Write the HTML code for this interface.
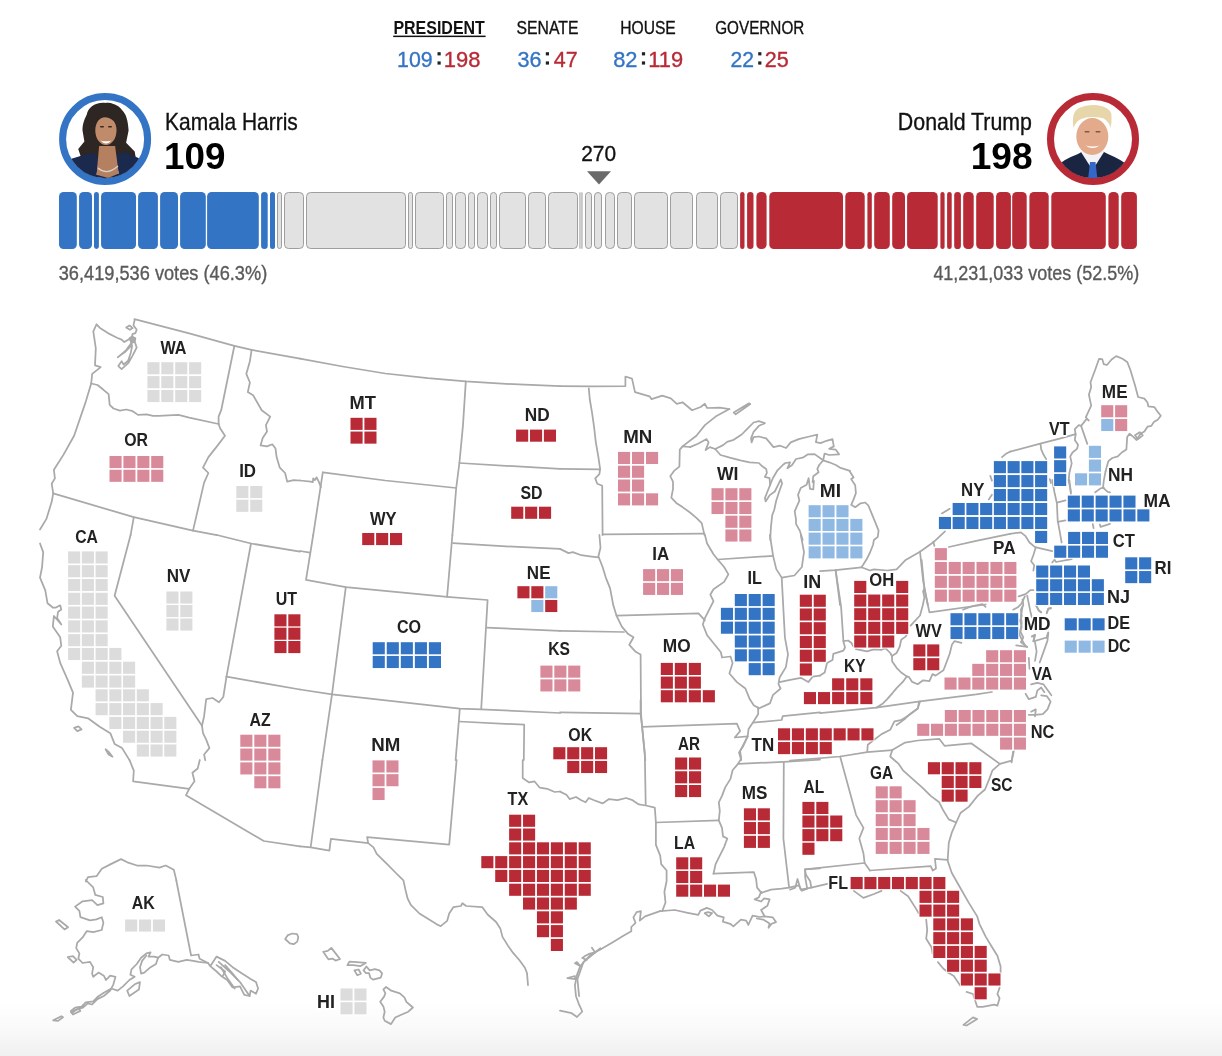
<!DOCTYPE html>
<html lang="en"><head><meta charset="utf-8"><title>Election results</title>
<style>html,body{margin:0;padding:0;background:#fff}svg{display:block;font-family:'Liberation Sans', sans-serif}</style></head>
<body><svg width="1222" height="1056" viewBox="0 0 1222 1056">
<defs><clipPath id="cpH"><circle cx="105.1" cy="139" r="39.2"/></clipPath><clipPath id="cpT"><circle cx="1093" cy="139" r="39.2"/></clipPath></defs>
<rect width="1222" height="1056" fill="#fff"/>
<linearGradient id="fade" x1="0" y1="0" x2="0" y2="1"><stop offset="0" stop-color="#f0f0f0" stop-opacity="0"/><stop offset="0.5" stop-color="#f0f0f0" stop-opacity="0.35"/><stop offset="1" stop-color="#f0f0f0"/></linearGradient>
<rect x="0" y="1000" width="1222" height="56" fill="url(#fade)"/>
<text x="393.43" y="34.1" font-size="18.8" font-weight="bold" fill="#111" text-anchor="start" textLength="91.44" lengthAdjust="spacingAndGlyphs">PRESIDENT</text>
<rect x="393.2" y="35.6" width="92.4" height="1.5" fill="#111"/>
<text x="516.60" y="34.1" font-size="18.8" font-weight="normal" fill="#111" text-anchor="start" textLength="61.87" lengthAdjust="spacingAndGlyphs" stroke="#111" stroke-width="0.35">SENATE</text>
<text x="620.22" y="34.1" font-size="18.8" font-weight="normal" fill="#111" text-anchor="start" textLength="55.55" lengthAdjust="spacingAndGlyphs" stroke="#111" stroke-width="0.35">HOUSE</text>
<text x="715.23" y="34.1" font-size="18.8" font-weight="normal" fill="#111" text-anchor="start" textLength="89.08" lengthAdjust="spacingAndGlyphs" stroke="#111" stroke-width="0.35">GOVERNOR</text>
<text x="397.07" y="67.0" font-size="22" font-weight="normal" fill="#3474c4" text-anchor="start" textLength="35.64" lengthAdjust="spacingAndGlyphs" stroke="#3474c4" stroke-width="0.35">109</text>
<rect x="437.5" y="52.2" width="3.2" height="3.2" fill="#222"/><rect x="437.5" y="61.4" width="3.2" height="3.2" fill="#222"/>
<text x="443.83" y="67.0" font-size="22" font-weight="normal" fill="#b82a35" text-anchor="start" textLength="36.63" lengthAdjust="spacingAndGlyphs" stroke="#b82a35" stroke-width="0.35">198</text>
<text x="517.38" y="67.0" font-size="22" font-weight="normal" fill="#3474c4" text-anchor="start" textLength="24.08" lengthAdjust="spacingAndGlyphs" stroke="#3474c4" stroke-width="0.35">36</text>
<rect x="545.8" y="52.2" width="3.2" height="3.2" fill="#222"/><rect x="545.8" y="61.4" width="3.2" height="3.2" fill="#222"/>
<text x="553.81" y="67.0" font-size="22" font-weight="normal" fill="#b82a35" text-anchor="start" textLength="23.87" lengthAdjust="spacingAndGlyphs" stroke="#b82a35" stroke-width="0.35">47</text>
<text x="613.15" y="67.0" font-size="22" font-weight="normal" fill="#3474c4" text-anchor="start" textLength="24.35" lengthAdjust="spacingAndGlyphs" stroke="#3474c4" stroke-width="0.35">82</text>
<rect x="641.9" y="52.2" width="3.2" height="3.2" fill="#222"/><rect x="641.9" y="61.4" width="3.2" height="3.2" fill="#222"/>
<text x="648.21" y="67.0" font-size="22" font-weight="normal" fill="#b82a35" text-anchor="start" textLength="34.88" lengthAdjust="spacingAndGlyphs" stroke="#b82a35" stroke-width="0.35">119</text>
<text x="730.44" y="67.0" font-size="22" font-weight="normal" fill="#3474c4" text-anchor="start" textLength="23.53" lengthAdjust="spacingAndGlyphs" stroke="#3474c4" stroke-width="0.35">22</text>
<rect x="758.2" y="52.2" width="3.2" height="3.2" fill="#222"/><rect x="758.2" y="61.4" width="3.2" height="3.2" fill="#222"/>
<text x="764.72" y="67.0" font-size="22" font-weight="normal" fill="#b82a35" text-anchor="start" textLength="23.99" lengthAdjust="spacingAndGlyphs" stroke="#b82a35" stroke-width="0.35">25</text>
<circle cx="105.1" cy="139" r="42.5" fill="#fff" stroke="#3474c4" stroke-width="7"/>
<g clip-path="url(#cpH)">
<path d="M105.2 102.9 C95 102 88 108 86.8 114.5 C83 122 82.5 126 82.5 130.5 L84.4 141.5 L78.2 148.9 L80.7 156.3 L90.5 158.7 L123.6 158.7 L135.9 158.7 L134.7 151.4 L126.1 142.8 L128.6 130.5 C128 120 126 114 122.4 110.5 C118 104 110 102.5 105.2 102.9Z" fill="#2d2622"/>
<path d="M68 160 L71.5 158.7 L91.7 152.6 L99 158 L96.6 174.7 L118.7 173.5 L115 155 L125 152 L138.4 158.1 L142 160 L142 186 L68 186Z" fill="#1b2a4c"/>
<path d="M99.1 146 L115.1 146 L118.7 173.5 L108 178 L96.6 174.7Z" fill="#b5805f"/>
<path d="M98 168 Q107 176 118 166" fill="none" stroke="#d9d2cc" stroke-width="1.2"/>
<ellipse cx="105.9" cy="130.5" rx="10.6" ry="14.5" fill="#c08b6b"/>
<path d="M95.5 124 Q97 112 106 113 Q114 113 116.5 124 Q110 116 103 117.5 Q98 119 95.5 124Z" fill="#2d2622"/>
<path d="M100.5 140.5 Q106 146.5 111.5 140.5 Q106 142.2 100.5 140.5Z" fill="#fff"/>
<rect x="100" y="126" width="4" height="1.6" rx="0.8" fill="#3a2a22"/><rect x="108" y="126" width="4" height="1.6" rx="0.8" fill="#3a2a22"/>
</g>
<text x="165.08" y="129.5" font-size="24" font-weight="normal" fill="#111" text-anchor="start" textLength="132.78" lengthAdjust="spacingAndGlyphs" stroke="#111" stroke-width="0.35">Kamala Harris</text>
<text x="164.08" y="168.7" font-size="36" font-weight="bold" fill="#000" text-anchor="start" textLength="61.38" lengthAdjust="spacingAndGlyphs">109</text>
<circle cx="1093" cy="139" r="42.5" fill="#fff" stroke="#b82a35" stroke-width="7"/>
<g clip-path="url(#cpT)">
<path d="M1056 186 L1058 166 Q1062 160 1078 154 L1085 150 L1100 150 L1108 154 Q1122 160 1127 165 L1130 186Z" fill="#1a2542"/>
<path d="M1081 152 L1092.5 170 L1104 152 L1100 146 L1085 146Z" fill="#f3f3f6"/>
<path d="M1090 162 L1095.5 162 L1097.5 180 L1088 180Z" fill="#3567c7"/>
<ellipse cx="1092.3" cy="136.5" rx="16" ry="18.5" fill="#e3aa8c"/>
<path d="M1073.5 128 Q1071 112 1079 108 Q1090 103 1103 106.5 Q1112 109.5 1111.5 117 Q1112 122 1110.5 128 Q1108 118 1099 117.5 Q1088 116 1080 119.5 Q1075.5 122 1073.5 128Z" fill="#e8d6ab"/>
<path d="M1085.5 145.5 Q1092.5 150.5 1099.5 145.5 Q1092.5 147.5 1085.5 145.5Z" fill="#fff"/>
<rect x="1084.5" y="131" width="5" height="1.5" rx="0.7" fill="#7a5a48"/><rect x="1095.5" y="131" width="5" height="1.5" rx="0.7" fill="#7a5a48"/>
</g>
<text x="897.86" y="129.5" font-size="24" font-weight="normal" fill="#111" text-anchor="start" textLength="134.13" lengthAdjust="spacingAndGlyphs" stroke="#111" stroke-width="0.35">Donald Trump</text>
<text x="970.66" y="168.7" font-size="36" font-weight="bold" fill="#000" text-anchor="start" textLength="61.98" lengthAdjust="spacingAndGlyphs">198</text>
<text x="581.15" y="161.0" font-size="22" font-weight="normal" fill="#111" text-anchor="start" textLength="34.87" lengthAdjust="spacingAndGlyphs" stroke="#111" stroke-width="0.35">270</text>
<path d="M587 171.2 L611 171.2 L599 184.6Z" fill="#6a6a6a"/>
<text x="58.71" y="279.9" font-size="20.5" font-weight="normal" fill="#5a5a5a" text-anchor="start" textLength="208.52" lengthAdjust="spacingAndGlyphs" stroke="#5a5a5a" stroke-width="0.35">36,419,536 votes (46.3%)</text>
<text x="933.39" y="279.9" font-size="20.5" font-weight="normal" fill="#5a5a5a" text-anchor="start" textLength="205.83" lengthAdjust="spacingAndGlyphs" stroke="#5a5a5a" stroke-width="0.35">41,231,033 votes (52.5%)</text>
<rect x="59.03" y="192" width="17.78" height="57" rx="4.50" fill="#3474c4"/>
<rect x="79.07" y="192" width="12.96" height="57" rx="4.50" fill="#3474c4"/>
<rect x="93.99" y="192" width="4.91" height="57" rx="2.46" fill="#3474c4"/>
<rect x="101.06" y="192" width="34.96" height="57" rx="4.50" fill="#3474c4"/>
<rect x="138.08" y="192" width="19.82" height="57" rx="4.50" fill="#3474c4"/>
<rect x="160.10" y="192" width="17.90" height="57" rx="4.50" fill="#3474c4"/>
<rect x="180.10" y="192" width="25.70" height="57" rx="4.50" fill="#3474c4"/>
<rect x="207.10" y="192" width="51.70" height="57" rx="4.50" fill="#3474c4"/>
<rect x="261.10" y="192" width="6.60" height="57" rx="3.30" fill="#3474c4"/>
<rect x="270.00" y="192" width="5.00" height="57" rx="2.50" fill="#3474c4"/>
<rect x="740.10" y="192" width="4.40" height="57" rx="2.20" fill="#b82a35"/>
<rect x="747.10" y="192" width="6.40" height="57" rx="3.20" fill="#b82a35"/>
<rect x="756.40" y="192" width="10.20" height="57" rx="4.50" fill="#b82a35"/>
<rect x="769.30" y="192" width="73.70" height="57" rx="4.50" fill="#b82a35"/>
<rect x="845.30" y="192" width="19.40" height="57" rx="4.50" fill="#b82a35"/>
<rect x="867.40" y="192" width="4.40" height="57" rx="2.20" fill="#b82a35"/>
<rect x="874.20" y="192" width="15.60" height="57" rx="4.50" fill="#b82a35"/>
<rect x="892.20" y="192" width="12.80" height="57" rx="4.50" fill="#b82a35"/>
<rect x="907.10" y="192" width="30.60" height="57" rx="4.50" fill="#b82a35"/>
<rect x="940.40" y="192" width="4.20" height="57" rx="2.10" fill="#b82a35"/>
<rect x="947.10" y="192" width="4.60" height="57" rx="2.30" fill="#b82a35"/>
<rect x="954.20" y="192" width="6.70" height="57" rx="3.35" fill="#b82a35"/>
<rect x="963.20" y="192" width="10.50" height="57" rx="4.50" fill="#b82a35"/>
<rect x="976.20" y="192" width="17.50" height="57" rx="4.50" fill="#b82a35"/>
<rect x="996.10" y="192" width="14.80" height="57" rx="4.50" fill="#b82a35"/>
<rect x="1012.20" y="192" width="14.50" height="57" rx="4.50" fill="#b82a35"/>
<rect x="1029.40" y="192" width="19.30" height="57" rx="4.50" fill="#b82a35"/>
<rect x="1051.30" y="192" width="54.50" height="57" rx="4.50" fill="#b82a35"/>
<rect x="1108.40" y="192" width="10.30" height="57" rx="4.50" fill="#b82a35"/>
<rect x="1121.20" y="192" width="15.70" height="57" rx="4.50" fill="#b82a35"/>
<rect x="277.5" y="192.5" width="4" height="56" rx="2.0" fill="#e2e2e2" stroke="#9e9e9e" stroke-width="1"/>
<rect x="284.5" y="192.5" width="19" height="56" rx="4.0" fill="#e2e2e2" stroke="#9e9e9e" stroke-width="1"/>
<rect x="306.5" y="192.5" width="99" height="56" rx="4.0" fill="#e2e2e2" stroke="#9e9e9e" stroke-width="1"/>
<rect x="408.5" y="192.5" width="4" height="56" rx="2.0" fill="#e2e2e2" stroke="#9e9e9e" stroke-width="1"/>
<rect x="415.5" y="192.5" width="28" height="56" rx="4.0" fill="#e2e2e2" stroke="#9e9e9e" stroke-width="1"/>
<rect x="446.5" y="192.5" width="6" height="56" rx="3.0" fill="#e2e2e2" stroke="#9e9e9e" stroke-width="1"/>
<rect x="455.5" y="192.5" width="10" height="56" rx="4.0" fill="#e2e2e2" stroke="#9e9e9e" stroke-width="1"/>
<rect x="468.5" y="192.5" width="6" height="56" rx="3.0" fill="#e2e2e2" stroke="#9e9e9e" stroke-width="1"/>
<rect x="477.5" y="192.5" width="10" height="56" rx="4.0" fill="#e2e2e2" stroke="#9e9e9e" stroke-width="1"/>
<rect x="490.5" y="192.5" width="6" height="56" rx="3.0" fill="#e2e2e2" stroke="#9e9e9e" stroke-width="1"/>
<rect x="499.5" y="192.5" width="26" height="56" rx="4.0" fill="#e2e2e2" stroke="#9e9e9e" stroke-width="1"/>
<rect x="528.5" y="192.5" width="17" height="56" rx="4.0" fill="#e2e2e2" stroke="#9e9e9e" stroke-width="1"/>
<rect x="548.5" y="192.5" width="29" height="56" rx="4.0" fill="#e2e2e2" stroke="#9e9e9e" stroke-width="1"/>
<rect x="579.30" y="192.3" width="1.3" height="56.4" rx="0.5" fill="#b0b0b0"/>
<rect x="581.30" y="192.3" width="1.3" height="56.4" rx="0.5" fill="#b0b0b0"/>
<rect x="585.5" y="192.5" width="6" height="56" rx="3.0" fill="#e2e2e2" stroke="#9e9e9e" stroke-width="1"/>
<rect x="594.5" y="192.5" width="7" height="56" rx="3.5" fill="#e2e2e2" stroke="#9e9e9e" stroke-width="1"/>
<rect x="605.5" y="192.5" width="9" height="56" rx="4.0" fill="#e2e2e2" stroke="#9e9e9e" stroke-width="1"/>
<rect x="617.5" y="192.5" width="14" height="56" rx="4.0" fill="#e2e2e2" stroke="#9e9e9e" stroke-width="1"/>
<rect x="634.5" y="192.5" width="33" height="56" rx="4.0" fill="#e2e2e2" stroke="#9e9e9e" stroke-width="1"/>
<rect x="670.5" y="192.5" width="22" height="56" rx="4.0" fill="#e2e2e2" stroke="#9e9e9e" stroke-width="1"/>
<rect x="696.5" y="192.5" width="21" height="56" rx="4.0" fill="#e2e2e2" stroke="#9e9e9e" stroke-width="1"/>
<rect x="720.5" y="192.5" width="17" height="56" rx="4.0" fill="#e2e2e2" stroke="#9e9e9e" stroke-width="1"/>
<g fill="none" stroke="#a9a9a9" stroke-width="1.75" stroke-linejoin="round" stroke-linecap="round">
<polyline points="134.4,319.2 189.2,333.4 234.4,345.8 251.6,349.9 300.0,358.6"/>
<polyline points="96.5,324.5 93.3,331.3 95.8,348.4 95.0,365.4 100.7,367.1 92.2,373.9 91.2,383.5"/>
<polyline points="91.2,383.5 97.5,385.0 102.9,389.3 108.6,394.2 109.7,404.8 113.5,408.5 119.9,410.6 126.3,409.5 132.7,411.2 138.0,414.9 146.6,414.4 153.0,415.9 159.4,415.9 167.9,415.3 178.5,414.9 189.2,417.6 218.6,424.0"/>
<polyline points="91.2,383.5 85.8,401.6 74.1,435.7 63.4,454.9 53.9,469.8 54.9,478.4 51.7,483.7 53.2,493.3 51.7,501.8 46.4,518.9 40.0,529.5"/>
<polyline points="53.2,493.3 133.8,517.2 193.0,530.6 216.9,535.1"/>
<polyline points="218.6,424.0 220.1,428.3 225.0,435.7 216.9,446.4 208.4,457.1 203.0,467.7 208.4,473.0 204.1,482.6 193.0,530.6"/>
<polyline points="133.8,517.2 130.6,535.1"/>
<polyline points="234.4,345.8 221.2,410.2 218.6,416.6 218.6,424.0"/>
<polyline points="251.6,349.9 249.9,361.2 246.3,373.9 249.9,382.5 247.8,392.1 253.1,395.3 261.7,410.2 270.2,416.6 265.9,425.1 267.0,431.5 262.7,437.9 260.6,445.3 267.0,446.4 272.3,444.3 275.5,448.5 276.6,457.1 279.8,467.7 285.1,473.0 287.2,481.6 293.6,480.1 300.0,480.5"/>
<polyline points="96.5,324.5 100.0,327.9 107.9,333.1 117.0,337.7 121.6,339.6 124.2,342.0 129.5,339.0"/>
<polygon points="126.2,327.6 129.5,325.5 132.7,328.1 129.9,329.8"/>
<polyline points="134.7,320.0 133.4,325.2 136.7,329.8 135.4,333.1 132.5,334.1 132.1,336.4"/>
<polygon points="129.5,338.3 132.1,336.4 135.4,338.3 134.7,341.6 131.4,342.9" fill="#ababab"/>
<polyline points="131.4,342.9 126.2,350.1 117.7,357.3 124.9,352.1 130.8,346.2"/>
<polyline points="134.7,341.6 136.7,347.5 132.7,355.4 128.2,363.2 121.6,369.1 118.3,366.1 121.6,361.2 123.6,364.5 128.2,360.6 130.8,352.7 132.1,346.2 131.4,342.9"/>
<polyline points="300.0,358.6 342.6,366.5 385.3,373.5 427.9,378.2 465.8,381.4 513.1,384.2 560.0,386.1"/>
<polyline points="465.8,381.4 463.0,425.1 459.4,463.0 456.2,488.0 452.4,535.1"/>
<polyline points="459.4,463.0 513.1,466.2 560.0,468.8"/>
<polyline points="322.8,472.4 385.3,480.5 456.2,488.0"/>
<polyline points="322.8,472.4 313.2,535.1"/>
<polyline points="300.0,480.5 310.7,481.6 312.8,482.2 313.2,478.4 314.9,480.1 316.6,477.3 319.2,482.6 320.9,487.3"/>
<polyline points="560.0,386.1 592.0,386.3 625.4,386.1 625.4,376.5 632.0,378.6 635.0,392.1 649.5,396.3 651.6,399.1 662.3,395.7 670.8,398.4 676.8,403.8 682.5,402.3 692.1,410.2 700.7,407.0 704.9,403.8 707.1,408.0 719.8,407.6 729.4,409.1"/>
<polyline points="588.8,388.4 589.8,399.5 592.0,412.3 594.1,427.2 595.8,442.1 598.4,457.1 600.1,468.8 599.4,474.1 595.2,478.4 597.3,483.7 602.2,485.8 602.6,535.1"/>
<polyline points="560.0,468.8 600.1,469.4"/>
<polyline points="682.5,446.4 679.8,449.6 679.4,466.6 674.0,470.9 670.2,476.2 673.0,481.6 673.0,489.0 671.3,497.6 676.2,502.9 682.5,507.1 690.0,512.5 696.4,517.8 701.7,523.1 704.5,535.1"/>
<polyline points="602.6,534.4 704.5,533.6"/>
<polyline points="729.4,409.1 715.6,416.6 704.9,425.1 696.4,435.7 682.5,446.4 690.0,447.0"/>
<polygon points="733.7,412.6 749.0,403.3 750.3,404.0 735.7,414.3"/>
<polyline points="690.0,447.1 698.0,443.7 706.6,439.1 708.6,442.4 705.6,450.1 709.9,447.1 715.2,449.0"/>
<polyline points="715.2,449.0 723.1,445.1 727.1,441.8 733.7,439.8 741.7,434.5 747.0,429.2 753.6,422.5 758.9,421.2 764.9,423.2 758.9,425.8 753.6,431.8 751.0,438.4 751.6,442.4 753.6,437.1 758.9,436.5 766.2,438.4 773.5,447.1 780.1,445.7 786.1,448.0 790.7,442.4 798.7,439.1 809.3,436.5 817.3,434.7 815.9,442.2 820.6,443.1 826.5,440.8 832.5,439.1 833.8,446.4 829.2,448.8 835.8,449.7 839.1,454.3 829.2,455.0 824.5,453.7 823.2,460.3"/>
<polyline points="715.2,449.0 720.5,455.0 729.8,457.7 740.4,460.3 749.7,462.3 758.9,463.0 762.2,466.3 766.2,468.9 766.9,472.9 764.9,476.9 769.5,478.2 770.2,484.8"/>
<polyline points="770.2,484.8 767.5,491.5 764.9,498.1 765.6,501.4 769.5,495.4 774.8,491.5 778.1,484.8 780.8,479.5 782.1,483.5 778.8,492.8 776.2,500.7 774.2,510.0 772.2,515.3 770.9,527.3 770.2,540.0"/>
<polyline points="770.2,484.8 772.8,478.2 777.5,470.3 782.8,465.0 785.4,463.0 790.1,462.3 787.4,468.3 792.1,465.0 796.0,459.0 802.7,457.7 808.0,454.3 814.6,454.1 823.2,460.3"/>
<polyline points="823.2,460.3 819.2,465.0 817.3,468.9 818.6,472.2 813.3,476.2 812.6,482.2 813.9,480.9 813.3,489.5 810.0,488.8 808.6,478.2 806.6,484.8 800.7,488.1 798.0,494.8 799.4,500.7 794.7,511.3 796.0,519.3 796.0,523.9 800.0,531.2 802.7,540.0"/>
<polyline points="823.2,460.3 829.2,462.3 835.8,465.0 839.8,467.6 850.0,470.9"/>
<polyline points="849.7,471.2 853.6,477.5 851.2,479.1 855.2,485.3 855.9,493.1 853.6,499.4 851.2,504.8 855.2,507.2 860.6,503.3 865.3,502.5 868.4,505.6 871.6,513.4 875.5,522.8 878.6,530.6 877.8,536.9 873.9,540.0 873.1,544.7 870.0,552.5 866.9,558.8 863.0,565.0 861.4,567.3"/>
<polyline points="820.0,571.2 835.6,570.2 861.4,567.3 870.0,570.5 873.9,569.4 887.2,570.5 896.6,569.4 905.2,560.3 920.0,551.7 933.3,542.3 945.0,531.4"/>
<polyline points="941.9,513.4 949.7,508.8"/>
<polyline points="988.8,499.4 991.9,494.7"/>
<polyline points="990.3,475.9 991.9,480.6"/>
<polyline points="1002.0,457.2 1005.9,453.8 1010.0,451.7"/>
<polyline points="835.6,570.2 840.0,605.0"/>
<polyline points="920.0,551.7 923.1,580.6 927.8,605.0"/>
<polyline points="948.9,547.0 976.2,540.8 1010.0,533.8"/>
<polyline points="933.3,541.6 934.4,545.9"/>
<polyline points="1010.0,451.7 1041.2,443.4 1061.6,438.1 1075.6,434.2"/>
<polyline points="1040.5,443.9 1041.2,449.4 1043.6,454.8 1046.2,459.1"/>
<polyline points="1049.8,479.1 1050.9,483.0"/>
<polyline points="1075.6,434.5 1074.8,440.0 1078.0,444.7 1077.2,448.6 1072.5,452.5 1070.2,456.4 1071.7,463.4 1069.4,472.8 1068.6,480.6 1070.2,488.4 1070.9,493.9"/>
<polyline points="1075.6,434.5 1074.8,429.1 1078.8,425.2 1081.1,425.9 1087.3,443.9"/>
<polyline points="1105.6,471.2 1103.8,480.6 1103.0,487.7 1107.7,491.9 1110.0,492.3"/>
<polyline points="1095.2,492.3 1100.6,488.4 1103.8,487.7"/>
<polyline points="1081.1,425.9 1086.6,418.9 1088.9,420.5 1085.8,417.3 1091.2,405.6 1088.9,394.7 1091.2,386.9 1090.5,382.2 1095.2,369.7 1099.1,358.8 1102.2,359.1 1103.8,364.2 1106.9,365.0 1111.6,359.5 1116.2,356.1 1122.5,358.8 1127.2,361.9 1130.3,369.7 1135.0,385.3 1138.1,397.0 1144.4,398.6 1147.5,402.5 1148.3,406.4 1154.5,407.2 1157.7,411.9 1160.8,415.8 1157.7,419.7 1153.8,422.0 1151.4,425.9 1147.5,426.7 1144.4,431.4 1140.5,433.8 1136.6,440.0 1133.4,436.9 1129.5,433.8 1127.2,436.9 1126.4,449.4 1121.7,452.5 1117.8,456.4 1112.3,458.0 1108.4,461.1 1107.7,463.4 1105.6,471.2"/>
<polygon points="1135.0,435.3 1139.7,432.2 1142.8,435.3 1138.1,439.2"/>
<polyline points="1052.2,480.0 1054.5,492.5 1056.9,503.4 1057.7,520.6 1060.0,533.1 1061.6,542.5"/>
<polyline points="1056.9,502.7 1065.5,500.3"/>
<polyline points="1057.7,521.9 1065.5,520.3"/>
<polyline points="1069.4,480.0 1070.9,492.5"/>
<polyline points="1092.8,524.1 1093.6,528.1"/>
<polyline points="1099.8,524.5 1100.6,526.9 1110.0,523.8"/>
<polyline points="1010.0,533.9 1020.9,532.3 1025.6,536.2 1029.5,542.5 1035.0,547.2 1052.2,551.1"/>
<polyline points="1035.8,547.2 1033.4,555.0 1031.1,561.2 1034.2,565.2 1033.4,570.6"/>
<polyline points="1052.2,562.5 1054.5,559.7 1056.1,562.0 1071.7,559.2"/>
<polyline points="1018.6,596.4 1025.6,594.1 1030.3,590.2 1033.4,590.2"/>
<polyline points="1035.8,605.0 1038.9,610.5 1041.2,612.0"/>
<polyline points="1046.7,612.8 1048.3,608.9 1050.9,608.4"/>
<polyline points="1024.8,596.4 1021.7,603.4 1017.8,607.3 1013.1,609.7"/>
<polyline points="1022.5,599.5 1023.3,605.0 1020.9,609.7 1021.7,615.9 1020.2,620.6 1021.7,626.9 1019.4,634.7 1021.7,639.4 1024.8,645.0"/>
<polyline points="1027.2,595.6 1030.3,611.2 1031.9,617.5"/>
<polyline points="1031.9,636.2 1035.0,634.7 1033.4,640.9"/>
<polyline points="1046.7,637.8 1048.3,632.3"/>
<polyline points="835.6,570.2 841.1,606.9 843.4,641.2"/>
<polyline points="820.0,675.6 824.7,672.5 827.0,663.1 832.5,660.0 833.3,653.8 843.4,650.6 845.0,647.5 843.4,641.2 848.1,640.5 851.2,642.8 853.6,646.7"/>
<polyline points="855.9,649.1 866.9,651.4 873.9,649.4 881.7,649.8 885.6,648.3 890.3,653.0 891.9,656.1 892.2,661.6 896.6,667.8 901.2,672.5 906.7,676.4"/>
<polyline points="906.7,676.4 902.8,681.9 896.6,688.1 892.7,692.8 887.2,699.1 882.5,703.8 876.2,707.7"/>
<polyline points="891.9,656.1 896.6,653.0 899.7,646.7 901.2,639.7 905.6,636.6 907.5,633.4"/>
<polyline points="910.6,625.6 920.0,615.5 922.8,605.3 924.4,597.5 923.1,591.2 924.4,588.9"/>
<polyline points="921.6,560.0 924.4,588.9 929.4,612.3 985.6,604.5"/>
<polyline points="963.0,609.7 970.0,606.9 976.2,605.3 982.5,604.1 985.6,606.9"/>
<polyline points="961.4,642.8 954.4,641.2 952.0,644.4 949.7,653.8 945.0,666.2 943.4,670.2 935.6,675.6 932.5,674.1 929.4,681.1 923.1,680.3 917.7,684.2 912.2,681.9 909.1,677.2 906.7,676.4"/>
<polyline points="820.0,713.1 876.2,707.7 920.0,701.4 976.2,694.4 991.9,692.0"/>
<polyline points="920.0,701.4 917.7,708.4 909.1,714.7 904.4,719.4 896.6,725.0"/>
<polyline points="1035.8,604.7 1038.9,610.9 1041.2,612.5"/>
<polyline points="1046.7,613.3 1048.3,608.6 1050.9,607.8"/>
<polyline points="1022.5,607.0 1020.9,615.6 1021.7,623.4 1020.2,631.2 1023.3,637.5 1020.9,642.2 1027.2,646.9"/>
<polyline points="1031.9,636.7 1035.0,635.2 1033.4,641.4 1046.7,637.5 1048.3,632.8 1047.5,640.6 1043.6,651.6 1039.7,662.5"/>
<polyline points="1035.0,642.2 1036.6,651.6 1035.0,660.9"/>
<polyline points="1016.2,645.3 1027.2,646.9"/>
<polyline points="1028.8,657.8 1029.5,668.8"/>
<polyline points="1031.1,684.4 1037.3,682.8 1043.6,684.4 1051.4,695.3"/>
<polyline points="1025.6,693.8 1028.8,699.2 1035.8,696.9 1037.3,690.6 1041.2,687.5 1044.4,692.2"/>
<polyline points="1041.2,695.3 1046.7,696.1 1050.6,701.6 1047.5,709.4 1042.8,714.1 1035.0,714.8 1028.8,714.8"/>
<polyline points="1031.1,711.7 1035.8,709.4 1035.0,716.4"/>
<polyline points="1013.1,751.6 1011.6,762.5"/>
<polyline points="130.6,535.0 114.6,595.7 202.0,725.8"/>
<polyline points="216.9,535.0 251.0,543.5 300.0,551.6"/>
<polyline points="251.0,543.5 226.5,676.7"/>
<polyline points="226.5,676.7 223.3,697.0 219.0,702.3 212.6,698.0 206.2,699.1 204.1,716.2 202.0,725.8"/>
<polyline points="226.5,676.7 300.0,689.5"/>
<polyline points="202.0,725.8 203.0,733.2 206.2,739.6 209.4,748.1 204.1,754.5 205.2,760.1"/>
<polyline points="40.0,543.5 43.2,552.1 42.1,567.0 40.0,577.6 45.3,590.4 47.5,603.2 52.8,607.5 56.0,607.5 60.2,605.3 61.3,609.6 58.1,611.7 57.1,618.1 61.3,624.5 53.9,616.0 52.8,626.6 60.2,637.3 61.3,645.8 57.1,651.2 60.2,662.9 67.7,679.9 73.0,692.7 70.9,709.8 77.3,716.2 88.0,718.3 99.7,726.8 110.3,733.2 114.6,743.9 122.1,748.1 129.5,760.1"/>
<polygon points="74.1,727.9 78.4,726.4 81.6,729.4 77.3,731.1"/>
<polygon points="105.6,749.2 109.3,752.4 112.5,756.7 108.6,754.5"/>
<polyline points="313.2,535.0 306.0,579.8 345.8,587.2 447.1,596.8 487.6,600.0 481.2,709.3"/>
<polyline points="452.4,535.0 447.1,596.8"/>
<polyline points="300.0,551.0 310.0,552.7"/>
<polyline points="345.8,587.2 332.0,694.4"/>
<polyline points="300.0,689.5 332.0,694.4 459.8,708.7 481.2,709.3 560.0,713.0"/>
<polyline points="453.0,543.1 513.1,546.7 560.0,548.9"/>
<polyline points="486.7,627.7 560.0,630.9"/>
<polyline points="332.0,694.4 322.4,760.1"/>
<polyline points="459.8,708.7 458.8,721.5 455.6,760.1"/>
<polyline points="458.8,721.5 524.2,724.7 523.8,760.1"/>
<polyline points="599.4,535.0 600.5,547.8 598.4,556.3 602.6,567.0 605.8,577.6 610.1,588.3 613.3,605.3 616.5,615.6 621.8,626.6 628.2,634.1 633.5,637.3 629.3,644.8 635.7,651.8 640.6,654.4 641.0,713.0"/>
<polyline points="560.0,548.9 568.5,553.1 572.8,552.1 581.3,555.2 589.8,556.3 598.4,557.4"/>
<polyline points="616.5,615.6 698.5,613.4 704.9,620.3"/>
<polyline points="560.0,630.9 623.9,632.0"/>
<polyline points="560.0,712.3 641.0,713.6 642.1,726.8 645.3,760.1"/>
<polyline points="642.1,726.8 736.9,723.6 740.1,731.1 734.8,737.5 747.6,736.4"/>
<polyline points="704.9,535.0 707.1,543.5 713.5,554.2 717.7,559.5 724.1,567.0 728.4,574.4 724.1,581.9 713.5,589.3 710.3,594.7 713.5,601.1 709.2,609.6 704.9,618.1 702.8,624.5 707.1,635.2 715.6,645.8 720.9,652.2 722.0,657.5 730.5,656.5 732.6,662.9 729.4,673.5 736.9,682.1 745.4,688.5 749.7,699.1 753.9,705.5 758.2,707.6 758.2,714.0 752.9,722.6 748.6,728.9 747.6,736.4 743.3,746.0 739.0,752.4 741.2,760.1"/>
<polyline points="717.7,559.5 773.1,555.9"/>
<polyline points="769.9,535.0 773.1,555.9 776.3,569.1 781.7,577.6 794.4,575.5 801.9,567.0 804.0,552.1 800.8,535.0"/>
<polyline points="781.7,577.6 784.9,637.3 788.0,654.4 785.9,667.1 779.5,677.8 778.5,684.2 780.6,688.5 773.1,694.8 769.9,703.4 758.2,708.7"/>
<polyline points="779.5,682.1 790.2,679.9 800.8,677.8 808.3,682.1 812.6,676.7 820.0,675.7"/>
<polyline points="752.9,722.6 781.7,720.0 782.7,716.2 820.0,712.3"/>
<polyline points="129.5,760.0 133.8,770.7 133.1,781.3 189.2,788.8"/>
<polyline points="199.8,760.0 197.7,768.5 192.4,772.8 194.5,781.3 189.2,788.8 186.0,795.2 263.8,841.0 300.0,846.3"/>
<polyline points="85.8,881.5 88.0,877.2 96.5,876.2 101.8,868.7 110.3,864.4 121.0,859.1 127.4,862.3 137.0,865.5 146.6,865.5 159.4,867.6 165.7,865.5 173.8,869.8 176.4,880.4"/>
<polyline points="85.7,880.0 93.2,887.4 95.3,894.9 102.8,897.0 103.4,903.4 97.4,905.1 92.1,900.2 82.6,901.3 75.1,906.6 79.4,910.9 80.4,917.2 90.0,920.4 96.4,919.4 101.7,917.2 103.4,922.6 101.7,930.0 93.2,932.1 86.8,931.1 82.6,937.4 77.2,942.8 76.2,948.1 79.4,953.4 78.3,958.7 82.6,963.0 90.0,961.9 93.2,967.2 92.1,973.6 93.2,976.8 98.5,972.6 103.8,975.7 106.0,980.0 110.2,975.7 115.5,976.8 113.4,984.3 110.2,990.6 103.8,996.0 97.4,999.1 92.1,1004.5 87.9,1003.4 82.6,1007.7 76.2,1009.8 71.9,1013.0 70.9,1010.9 75.1,1007.7 81.5,1006.6 85.7,1002.3 93.2,1001.3 97.4,997.0 103.8,992.8 111.3,988.5 117.7,990.6 123.0,986.4 129.4,980.0 134.7,976.8 130.4,974.7 131.5,969.4 136.8,964.0 141.1,957.7 146.4,953.4 150.6,952.3 148.5,956.6 153.8,956.6 158.1,957.7 162.3,954.5 168.7,955.5 169.8,959.8 178.3,961.9 186.8,959.8 193.2,960.9 198.5,961.9 208.1,963.0 210.2,966.2 216.6,971.5 220.9,975.7 227.2,980.0 232.6,987.4 240.0,986.4 244.3,994.9 249.6,996.0 250.6,990.6 256.0,993.8 258.1,988.5 256.0,982.1 250.6,978.9 242.1,973.6 232.6,967.2 225.1,960.9 216.6,956.6 210.2,966.2"/>
<polyline points="158.1,957.7 156.0,964.0 150.6,967.2 144.3,972.6 141.1,973.6 140.0,967.2 142.1,960.9 146.4,955.5"/>
<polyline points="176.2,880.0 191.1,955.5 198.5,954.5 199.6,958.7 208.1,963.0"/>
<polyline points="218.7,961.9 229.4,971.5 240.0,982.1 249.6,996.0"/>
<polyline points="220.9,967.2 227.2,977.9 234.7,988.5"/>
<polyline points="225.1,965.1 232.6,973.6 237.9,980.0"/>
<polyline points="216.6,965.1 225.1,971.5 223.0,975.7"/>
<polygon points="127.2,990.6 134.7,984.3 140.0,982.1 138.9,989.6 129.4,996.0"/>
<polygon points="56.0,921.5 59.1,920.0 68.1,927.2 64.5,929.4"/>
<polygon points="67.7,957.0 73.0,956.2 76.6,959.8 73.6,962.6"/>
<polygon points="70.9,1011.9 78.3,1008.7 80.4,1010.9 73.0,1014.5"/>
<polygon points="53.2,1020.4 61.3,1016.2 63.0,1017.2 58.1,1020.9"/>
<polygon points="285.2,939.0 287.9,935.1 292.4,933.5 297.0,934.1 298.3,937.0 297.3,941.6 293.7,944.2 289.8,943.3"/>
<polygon points="323.2,951.8 327.8,950.8 331.3,947.9 335.6,953.4 340.0,959.0 335.6,960.6 332.4,958.6 328.4,959.3"/>
<polygon points="347.4,965.2 349.4,961.6 356.6,962.2 365.8,962.9 360.5,966.1 353.3,965.2"/>
<polygon points="354.4,970.4 358.6,969.5 360.9,973.7 357.3,975.3"/>
<polygon points="363.5,970.4 366.4,966.5 369.7,970.4 374.9,969.1 379.5,970.4 382.1,973.4 380.8,977.6 373.0,979.6 370.3,977.6 369.0,973.0 365.8,973.0"/>
<polygon points="383.4,989.4 386.1,987.0 391.3,990.7 399.8,993.3 404.4,997.3 406.4,1001.8 412.9,1007.5 408.3,1011.7 402.4,1014.3 395.2,1017.5 391.0,1024.1 384.7,1020.8 383.4,1017.5 384.7,1011.7 383.4,1006.4 380.2,1001.8 384.1,996.6 385.4,993.3"/>
<polyline points="322.4,760.0 310.7,847.0"/>
<polyline points="300.0,846.3 310.7,847.4 329.4,850.6 330.9,838.9 368.2,843.1"/>
<polyline points="368.2,843.1 367.1,837.2 449.2,844.6 456.6,760.0"/>
<polyline points="368.2,843.1 373.5,847.4 376.7,853.8 387.4,864.4 395.9,873.0 403.4,880.4 405.5,890.0 407.6,898.5 410.8,904.9 419.4,913.5 427.9,918.8 436.4,924.1 440.7,926.2 447.1,920.9 449.2,913.5 453.5,907.1 460.9,906.0 462.4,903.2 466.2,906.0 482.2,907.1 487.6,914.5 496.1,922.0 500.3,928.4 502.5,936.9 507.8,945.4 513.1,952.9 519.5,960.3 524.9,967.8 527.0,973.1 528.0,985.1"/>
<polyline points="522.7,760.0 522.7,778.1 529.1,782.4 534.4,781.3 539.8,787.7 547.2,788.8 554.7,792.0 560.0,791.5"/>
<polyline points="640.6,700.0 640.6,713.9 642.1,726.6 644.8,753.3 645.7,804.4"/>
<polyline points="560.0,791.6 566.4,794.8 569.6,799.1 576.0,797.0 581.3,800.2 585.6,802.3 588.8,798.0 594.1,800.2 602.6,803.4 609.0,799.1 617.5,800.2 626.1,798.0 632.5,800.2 638.9,804.4 645.7,805.5 654.8,807.6 655.9,822.5"/>
<polyline points="655.9,822.5 718.8,820.4"/>
<polyline points="655.9,822.5 655.9,844.9 660.2,855.6 661.2,864.1 666.6,870.5 666.6,881.2 664.4,891.8 665.5,902.5 662.3,911.0"/>
<polyline points="747.6,736.7 743.3,744.8 740.1,751.2 741.2,758.6 738.0,763.9 732.6,770.3 730.5,778.9 725.2,787.4 722.0,795.9 718.8,802.3 719.8,810.8 718.8,820.4 722.0,827.9 723.0,836.4 727.3,838.5 724.1,847.1 719.8,855.6 715.6,864.1 713.5,873.7"/>
<polyline points="713.5,873.7 753.9,872.2 756.1,879.0 757.1,887.6 761.4,892.9"/>
<polyline points="738.0,763.9 783.8,761.8 820.0,759.7"/>
<polyline points="783.8,761.8 783.4,838.5 789.1,887.6"/>
<polyline points="761.4,892.9 771.0,889.7 781.7,888.6 789.1,887.6 798.7,885.4 801.9,890.8 807.2,888.6 805.1,876.9 805.1,869.4 820.0,868.4"/>
<polyline points="660.0,911.1 645.1,916.4 639.8,920.6 640.9,911.1 636.6,912.1 633.4,917.4 635.5,922.8 631.3,927.0 631.3,931.3 623.8,935.5 613.2,941.9 600.4,949.4 591.9,953.6 585.5,960.0 580.2,966.4 577.0,974.9 574.9,985.5 576.0,996.2 579.1,1004.7 582.3,1011.5 577.0,1017.0 571.7,1013.2 560.0,1010.6"/>
<polyline points="591.9,947.7 595.1,952.6 589.8,953.6 585.5,955.7 582.3,957.9 586.6,960.0"/>
<polygon points="574.9,963.2 580.2,966.0 577.0,962.1"/>
<polygon points="567.4,978.1 574.9,976.0 575.3,979.1"/>
<polyline points="600.4,948.3 583.4,962.1 577.4,979.1 579.1,996.2"/>
<polyline points="660.0,911.1 674.9,910.0 687.7,912.8 698.3,914.9 700.4,910.6 706.8,907.9 712.1,910.0 717.4,915.7 723.8,917.4 722.8,921.7 730.2,923.8 733.4,926.4 740.9,919.6 746.2,920.6 748.3,924.9 752.6,915.7 760.0,917.0 764.3,916.4 772.8,917.4 776.0,922.1 771.7,923.8 768.5,927.7 769.6,923.4 763.2,919.6 756.8,918.5"/>
<polygon points="704.7,913.2 708.9,916.4 712.1,913.2 707.9,912.1"/>
<polyline points="761.1,891.9 758.9,897.2 754.7,899.4 761.1,901.5 764.3,898.3 769.6,899.4 767.4,905.7 761.1,910.0 764.3,915.7"/>
<polyline points="918.9,702.1 917.9,708.5 909.4,714.9 900.8,720.2 894.4,721.3 890.2,729.8 881.6,734.1 873.1,740.5 867.8,744.8 867.2,752.2"/>
<polyline points="790.0,760.7 840.1,756.5 867.2,752.2 892.3,750.1"/>
<polyline points="892.3,750.1 905.1,742.6 917.9,740.5 939.2,738.8 944.5,745.8 971.2,743.3 999.9,763.9"/>
<polyline points="892.3,750.1 890.2,756.5 898.7,763.9 903.0,770.3 913.6,779.9 922.1,787.4 930.7,795.9 939.2,802.3 943.5,810.8 948.8,819.4 956.2,822.5"/>
<polyline points="1013.8,751.2 1011.7,760.7 999.9,763.9 992.5,770.3 989.3,778.9 985.0,789.5 977.6,795.9 973.3,801.2 969.0,806.6 960.5,813.0 956.2,822.5 952.0,832.1 948.8,842.8 947.7,859.8"/>
<polyline points="840.1,756.5 856.1,815.1 863.5,827.9 859.3,838.5 863.5,853.5 864.6,863.0 869.9,870.5"/>
<polyline points="869.9,870.5 930.7,866.2 932.8,870.5 936.0,868.4 934.9,858.8 947.7,859.8"/>
<polyline points="864.6,863.0 804.9,869.4 806.0,874.8 810.2,881.2 811.3,887.6"/>
<polyline points="790.0,889.7 795.3,887.6 797.5,879.0 800.7,889.7 811.3,887.6 828.4,883.7"/>
<polyline points="853.8,890.9 863.4,897.9 874.0,894.0 881.5,890.9"/>
<polyline points="900.6,890.9 908.1,896.2 915.5,907.9 918.7,913.2"/>
<polyline points="926.2,919.6 927.2,930.2 926.2,938.7 931.5,947.2 932.6,953.6"/>
<polyline points="937.9,962.1 943.2,968.5 948.5,972.8"/>
<polyline points="948.5,972.8 953.8,976.0 960.2,985.5"/>
<polyline points="966.6,991.9 973.0,994.0 977.2,1006.8 982.6,1006.8 994.3,1004.7 997.4,1005.7 999.6,998.3 997.4,994.0 999.6,987.7"/>
<polyline points="947.4,860.0 951.7,872.8 960.2,887.7 968.7,902.6 977.2,916.4 979.4,923.8 985.7,936.6 992.1,947.2 997.4,955.7 1000.6,966.4 1000.6,972.8"/>
<polygon points="963.4,1024.9 973.0,1017.4 977.2,1019.1 966.6,1025.5"/>
</g>
<rect x="146.50" y="361.30" width="13.9" height="13.9" fill="#fff"/>
<rect x="160.40" y="361.30" width="13.9" height="13.9" fill="#fff"/>
<rect x="174.30" y="361.30" width="13.9" height="13.9" fill="#fff"/>
<rect x="188.20" y="361.30" width="13.9" height="13.9" fill="#fff"/>
<rect x="146.50" y="375.20" width="13.9" height="13.9" fill="#fff"/>
<rect x="160.40" y="375.20" width="13.9" height="13.9" fill="#fff"/>
<rect x="174.30" y="375.20" width="13.9" height="13.9" fill="#fff"/>
<rect x="188.20" y="375.20" width="13.9" height="13.9" fill="#fff"/>
<rect x="146.50" y="389.10" width="13.9" height="13.9" fill="#fff"/>
<rect x="160.40" y="389.10" width="13.9" height="13.9" fill="#fff"/>
<rect x="174.30" y="389.10" width="13.9" height="13.9" fill="#fff"/>
<rect x="188.20" y="389.10" width="13.9" height="13.9" fill="#fff"/>
<rect x="108.60" y="455.10" width="13.9" height="13.9" fill="#fff"/>
<rect x="122.50" y="455.10" width="13.9" height="13.9" fill="#fff"/>
<rect x="136.40" y="455.10" width="13.9" height="13.9" fill="#fff"/>
<rect x="150.30" y="455.10" width="13.9" height="13.9" fill="#fff"/>
<rect x="108.60" y="468.85" width="13.9" height="13.9" fill="#fff"/>
<rect x="122.50" y="468.85" width="13.9" height="13.9" fill="#fff"/>
<rect x="136.40" y="468.85" width="13.9" height="13.9" fill="#fff"/>
<rect x="150.30" y="468.85" width="13.9" height="13.9" fill="#fff"/>
<rect x="235.40" y="485.10" width="13.9" height="13.9" fill="#fff"/>
<rect x="249.30" y="485.10" width="13.9" height="13.9" fill="#fff"/>
<rect x="235.40" y="498.85" width="13.9" height="13.9" fill="#fff"/>
<rect x="249.30" y="498.85" width="13.9" height="13.9" fill="#fff"/>
<rect x="349.60" y="416.90" width="13.9" height="13.9" fill="#fff"/>
<rect x="363.50" y="416.90" width="13.9" height="13.9" fill="#fff"/>
<rect x="349.60" y="430.65" width="13.9" height="13.9" fill="#fff"/>
<rect x="363.50" y="430.65" width="13.9" height="13.9" fill="#fff"/>
<rect x="515.20" y="428.70" width="13.9" height="13.9" fill="#fff"/>
<rect x="529.10" y="428.70" width="13.9" height="13.9" fill="#fff"/>
<rect x="543.00" y="428.70" width="13.9" height="13.9" fill="#fff"/>
<rect x="510.30" y="505.80" width="13.9" height="13.9" fill="#fff"/>
<rect x="524.20" y="505.80" width="13.9" height="13.9" fill="#fff"/>
<rect x="538.10" y="505.80" width="13.9" height="13.9" fill="#fff"/>
<rect x="361.30" y="532.10" width="13.9" height="13.9" fill="#fff"/>
<rect x="375.20" y="532.10" width="13.9" height="13.9" fill="#fff"/>
<rect x="389.10" y="532.10" width="13.9" height="13.9" fill="#fff"/>
<rect x="617.10" y="451.00" width="13.9" height="13.9" fill="#fff"/>
<rect x="631.10" y="451.00" width="13.9" height="13.9" fill="#fff"/>
<rect x="645.10" y="451.00" width="13.9" height="13.9" fill="#fff"/>
<rect x="617.10" y="464.80" width="13.9" height="13.9" fill="#fff"/>
<rect x="631.10" y="464.80" width="13.9" height="13.9" fill="#fff"/>
<rect x="617.10" y="478.60" width="13.9" height="13.9" fill="#fff"/>
<rect x="631.10" y="478.60" width="13.9" height="13.9" fill="#fff"/>
<rect x="617.10" y="492.40" width="13.9" height="13.9" fill="#fff"/>
<rect x="631.10" y="492.40" width="13.9" height="13.9" fill="#fff"/>
<rect x="645.10" y="492.40" width="13.9" height="13.9" fill="#fff"/>
<rect x="710.60" y="487.30" width="13.9" height="13.9" fill="#fff"/>
<rect x="724.50" y="487.30" width="13.9" height="13.9" fill="#fff"/>
<rect x="738.40" y="487.30" width="13.9" height="13.9" fill="#fff"/>
<rect x="710.60" y="501.05" width="13.9" height="13.9" fill="#fff"/>
<rect x="724.50" y="501.05" width="13.9" height="13.9" fill="#fff"/>
<rect x="738.40" y="501.05" width="13.9" height="13.9" fill="#fff"/>
<rect x="724.50" y="514.80" width="13.9" height="13.9" fill="#fff"/>
<rect x="738.40" y="514.80" width="13.9" height="13.9" fill="#fff"/>
<rect x="724.50" y="528.55" width="13.9" height="13.9" fill="#fff"/>
<rect x="738.40" y="528.55" width="13.9" height="13.9" fill="#fff"/>
<rect x="807.70" y="504.30" width="13.9" height="13.9" fill="#fff"/>
<rect x="821.60" y="504.30" width="13.9" height="13.9" fill="#fff"/>
<rect x="835.50" y="504.30" width="13.9" height="13.9" fill="#fff"/>
<rect x="807.70" y="518.00" width="13.9" height="13.9" fill="#fff"/>
<rect x="821.60" y="518.00" width="13.9" height="13.9" fill="#fff"/>
<rect x="835.50" y="518.00" width="13.9" height="13.9" fill="#fff"/>
<rect x="849.40" y="518.00" width="13.9" height="13.9" fill="#fff"/>
<rect x="807.70" y="531.70" width="13.9" height="13.9" fill="#fff"/>
<rect x="821.60" y="531.70" width="13.9" height="13.9" fill="#fff"/>
<rect x="835.50" y="531.70" width="13.9" height="13.9" fill="#fff"/>
<rect x="849.40" y="531.70" width="13.9" height="13.9" fill="#fff"/>
<rect x="807.70" y="545.40" width="13.9" height="13.9" fill="#fff"/>
<rect x="821.60" y="545.40" width="13.9" height="13.9" fill="#fff"/>
<rect x="835.50" y="545.40" width="13.9" height="13.9" fill="#fff"/>
<rect x="849.40" y="545.40" width="13.9" height="13.9" fill="#fff"/>
<rect x="992.96" y="460.20" width="13.9" height="13.9" fill="#fff"/>
<rect x="1006.70" y="460.20" width="13.9" height="13.9" fill="#fff"/>
<rect x="1020.44" y="460.20" width="13.9" height="13.9" fill="#fff"/>
<rect x="1034.18" y="460.20" width="13.9" height="13.9" fill="#fff"/>
<rect x="992.96" y="474.16" width="13.9" height="13.9" fill="#fff"/>
<rect x="1006.70" y="474.16" width="13.9" height="13.9" fill="#fff"/>
<rect x="1020.44" y="474.16" width="13.9" height="13.9" fill="#fff"/>
<rect x="1034.18" y="474.16" width="13.9" height="13.9" fill="#fff"/>
<rect x="992.96" y="488.12" width="13.9" height="13.9" fill="#fff"/>
<rect x="1006.70" y="488.12" width="13.9" height="13.9" fill="#fff"/>
<rect x="1020.44" y="488.12" width="13.9" height="13.9" fill="#fff"/>
<rect x="1034.18" y="488.12" width="13.9" height="13.9" fill="#fff"/>
<rect x="951.74" y="502.08" width="13.9" height="13.9" fill="#fff"/>
<rect x="965.48" y="502.08" width="13.9" height="13.9" fill="#fff"/>
<rect x="979.22" y="502.08" width="13.9" height="13.9" fill="#fff"/>
<rect x="992.96" y="502.08" width="13.9" height="13.9" fill="#fff"/>
<rect x="1006.70" y="502.08" width="13.9" height="13.9" fill="#fff"/>
<rect x="1020.44" y="502.08" width="13.9" height="13.9" fill="#fff"/>
<rect x="1034.18" y="502.08" width="13.9" height="13.9" fill="#fff"/>
<rect x="938.00" y="516.04" width="13.9" height="13.9" fill="#fff"/>
<rect x="951.74" y="516.04" width="13.9" height="13.9" fill="#fff"/>
<rect x="965.48" y="516.04" width="13.9" height="13.9" fill="#fff"/>
<rect x="979.22" y="516.04" width="13.9" height="13.9" fill="#fff"/>
<rect x="992.96" y="516.04" width="13.9" height="13.9" fill="#fff"/>
<rect x="1006.70" y="516.04" width="13.9" height="13.9" fill="#fff"/>
<rect x="1020.44" y="516.04" width="13.9" height="13.9" fill="#fff"/>
<rect x="1034.18" y="516.04" width="13.9" height="13.9" fill="#fff"/>
<rect x="1034.18" y="530.00" width="13.9" height="13.9" fill="#fff"/>
<rect x="1053.20" y="445.50" width="13.9" height="13.9" fill="#fff"/>
<rect x="1053.20" y="459.25" width="13.9" height="13.9" fill="#fff"/>
<rect x="1053.20" y="473.00" width="13.9" height="13.9" fill="#fff"/>
<rect x="1088.00" y="444.90" width="13.9" height="13.9" fill="#fff"/>
<rect x="1088.00" y="458.65" width="13.9" height="13.9" fill="#fff"/>
<rect x="1074.10" y="472.40" width="13.9" height="13.9" fill="#fff"/>
<rect x="1088.00" y="472.40" width="13.9" height="13.9" fill="#fff"/>
<rect x="1100.30" y="404.30" width="13.9" height="13.9" fill="#fff"/>
<rect x="1114.20" y="404.30" width="13.9" height="13.9" fill="#fff"/>
<rect x="1100.30" y="418.05" width="13.9" height="13.9" fill="#fff"/>
<rect x="1114.20" y="418.05" width="13.9" height="13.9" fill="#fff"/>
<rect x="1066.90" y="494.70" width="13.9" height="13.9" fill="#fff"/>
<rect x="1080.80" y="494.70" width="13.9" height="13.9" fill="#fff"/>
<rect x="1094.70" y="494.70" width="13.9" height="13.9" fill="#fff"/>
<rect x="1108.60" y="494.70" width="13.9" height="13.9" fill="#fff"/>
<rect x="1122.50" y="494.70" width="13.9" height="13.9" fill="#fff"/>
<rect x="1066.90" y="508.45" width="13.9" height="13.9" fill="#fff"/>
<rect x="1080.80" y="508.45" width="13.9" height="13.9" fill="#fff"/>
<rect x="1094.70" y="508.45" width="13.9" height="13.9" fill="#fff"/>
<rect x="1108.60" y="508.45" width="13.9" height="13.9" fill="#fff"/>
<rect x="1122.50" y="508.45" width="13.9" height="13.9" fill="#fff"/>
<rect x="1136.40" y="508.45" width="13.9" height="13.9" fill="#fff"/>
<rect x="1067.20" y="531.00" width="13.9" height="13.9" fill="#fff"/>
<rect x="1081.10" y="531.00" width="13.9" height="13.9" fill="#fff"/>
<rect x="1095.00" y="531.00" width="13.9" height="13.9" fill="#fff"/>
<rect x="1053.30" y="544.75" width="13.9" height="13.9" fill="#fff"/>
<rect x="1067.20" y="544.75" width="13.9" height="13.9" fill="#fff"/>
<rect x="1081.10" y="544.75" width="13.9" height="13.9" fill="#fff"/>
<rect x="1095.00" y="544.75" width="13.9" height="13.9" fill="#fff"/>
<rect x="1124.30" y="556.40" width="13.9" height="13.9" fill="#fff"/>
<rect x="1138.20" y="556.40" width="13.9" height="13.9" fill="#fff"/>
<rect x="1124.30" y="570.15" width="13.9" height="13.9" fill="#fff"/>
<rect x="1138.20" y="570.15" width="13.9" height="13.9" fill="#fff"/>
<rect x="1035.30" y="564.60" width="13.9" height="13.9" fill="#fff"/>
<rect x="1049.20" y="564.60" width="13.9" height="13.9" fill="#fff"/>
<rect x="1063.10" y="564.60" width="13.9" height="13.9" fill="#fff"/>
<rect x="1077.00" y="564.60" width="13.9" height="13.9" fill="#fff"/>
<rect x="1035.30" y="578.30" width="13.9" height="13.9" fill="#fff"/>
<rect x="1049.20" y="578.30" width="13.9" height="13.9" fill="#fff"/>
<rect x="1063.10" y="578.30" width="13.9" height="13.9" fill="#fff"/>
<rect x="1077.00" y="578.30" width="13.9" height="13.9" fill="#fff"/>
<rect x="1090.90" y="578.30" width="13.9" height="13.9" fill="#fff"/>
<rect x="1035.30" y="592.00" width="13.9" height="13.9" fill="#fff"/>
<rect x="1049.20" y="592.00" width="13.9" height="13.9" fill="#fff"/>
<rect x="1063.10" y="592.00" width="13.9" height="13.9" fill="#fff"/>
<rect x="1077.00" y="592.00" width="13.9" height="13.9" fill="#fff"/>
<rect x="1090.90" y="592.00" width="13.9" height="13.9" fill="#fff"/>
<rect x="1063.80" y="617.40" width="13.9" height="13.9" fill="#fff"/>
<rect x="1077.70" y="617.40" width="13.9" height="13.9" fill="#fff"/>
<rect x="1091.60" y="617.40" width="13.9" height="13.9" fill="#fff"/>
<rect x="1063.80" y="639.70" width="13.9" height="13.9" fill="#fff"/>
<rect x="1077.70" y="639.70" width="13.9" height="13.9" fill="#fff"/>
<rect x="1091.60" y="639.70" width="13.9" height="13.9" fill="#fff"/>
<rect x="949.60" y="612.30" width="13.9" height="13.9" fill="#fff"/>
<rect x="963.50" y="612.30" width="13.9" height="13.9" fill="#fff"/>
<rect x="977.40" y="612.30" width="13.9" height="13.9" fill="#fff"/>
<rect x="991.30" y="612.30" width="13.9" height="13.9" fill="#fff"/>
<rect x="1005.20" y="612.30" width="13.9" height="13.9" fill="#fff"/>
<rect x="949.60" y="626.05" width="13.9" height="13.9" fill="#fff"/>
<rect x="963.50" y="626.05" width="13.9" height="13.9" fill="#fff"/>
<rect x="977.40" y="626.05" width="13.9" height="13.9" fill="#fff"/>
<rect x="991.30" y="626.05" width="13.9" height="13.9" fill="#fff"/>
<rect x="1005.20" y="626.05" width="13.9" height="13.9" fill="#fff"/>
<rect x="933.90" y="547.20" width="13.9" height="13.9" fill="#fff"/>
<rect x="933.90" y="561.05" width="13.9" height="13.9" fill="#fff"/>
<rect x="947.80" y="561.05" width="13.9" height="13.9" fill="#fff"/>
<rect x="961.70" y="561.05" width="13.9" height="13.9" fill="#fff"/>
<rect x="975.60" y="561.05" width="13.9" height="13.9" fill="#fff"/>
<rect x="989.50" y="561.05" width="13.9" height="13.9" fill="#fff"/>
<rect x="1003.40" y="561.05" width="13.9" height="13.9" fill="#fff"/>
<rect x="933.90" y="574.90" width="13.9" height="13.9" fill="#fff"/>
<rect x="947.80" y="574.90" width="13.9" height="13.9" fill="#fff"/>
<rect x="961.70" y="574.90" width="13.9" height="13.9" fill="#fff"/>
<rect x="975.60" y="574.90" width="13.9" height="13.9" fill="#fff"/>
<rect x="989.50" y="574.90" width="13.9" height="13.9" fill="#fff"/>
<rect x="1003.40" y="574.90" width="13.9" height="13.9" fill="#fff"/>
<rect x="933.90" y="588.75" width="13.9" height="13.9" fill="#fff"/>
<rect x="947.80" y="588.75" width="13.9" height="13.9" fill="#fff"/>
<rect x="961.70" y="588.75" width="13.9" height="13.9" fill="#fff"/>
<rect x="975.60" y="588.75" width="13.9" height="13.9" fill="#fff"/>
<rect x="989.50" y="588.75" width="13.9" height="13.9" fill="#fff"/>
<rect x="1003.40" y="588.75" width="13.9" height="13.9" fill="#fff"/>
<rect x="853.30" y="580.00" width="13.9" height="13.9" fill="#fff"/>
<rect x="895.24" y="580.00" width="13.9" height="13.9" fill="#fff"/>
<rect x="853.30" y="593.64" width="13.9" height="13.9" fill="#fff"/>
<rect x="867.28" y="593.64" width="13.9" height="13.9" fill="#fff"/>
<rect x="881.26" y="593.64" width="13.9" height="13.9" fill="#fff"/>
<rect x="895.24" y="593.64" width="13.9" height="13.9" fill="#fff"/>
<rect x="853.30" y="607.28" width="13.9" height="13.9" fill="#fff"/>
<rect x="867.28" y="607.28" width="13.9" height="13.9" fill="#fff"/>
<rect x="881.26" y="607.28" width="13.9" height="13.9" fill="#fff"/>
<rect x="895.24" y="607.28" width="13.9" height="13.9" fill="#fff"/>
<rect x="853.30" y="620.92" width="13.9" height="13.9" fill="#fff"/>
<rect x="867.28" y="620.92" width="13.9" height="13.9" fill="#fff"/>
<rect x="881.26" y="620.92" width="13.9" height="13.9" fill="#fff"/>
<rect x="895.24" y="620.92" width="13.9" height="13.9" fill="#fff"/>
<rect x="853.30" y="634.56" width="13.9" height="13.9" fill="#fff"/>
<rect x="867.28" y="634.56" width="13.9" height="13.9" fill="#fff"/>
<rect x="881.26" y="634.56" width="13.9" height="13.9" fill="#fff"/>
<rect x="912.40" y="643.50" width="13.9" height="13.9" fill="#fff"/>
<rect x="926.30" y="643.50" width="13.9" height="13.9" fill="#fff"/>
<rect x="912.40" y="657.25" width="13.9" height="13.9" fill="#fff"/>
<rect x="926.30" y="657.25" width="13.9" height="13.9" fill="#fff"/>
<rect x="831.20" y="677.40" width="13.9" height="13.9" fill="#fff"/>
<rect x="845.30" y="677.40" width="13.9" height="13.9" fill="#fff"/>
<rect x="859.40" y="677.40" width="13.9" height="13.9" fill="#fff"/>
<rect x="803.00" y="691.15" width="13.9" height="13.9" fill="#fff"/>
<rect x="817.10" y="691.15" width="13.9" height="13.9" fill="#fff"/>
<rect x="831.20" y="691.15" width="13.9" height="13.9" fill="#fff"/>
<rect x="845.30" y="691.15" width="13.9" height="13.9" fill="#fff"/>
<rect x="859.40" y="691.15" width="13.9" height="13.9" fill="#fff"/>
<rect x="985.24" y="649.30" width="13.9" height="13.9" fill="#fff"/>
<rect x="999.12" y="649.30" width="13.9" height="13.9" fill="#fff"/>
<rect x="1013.00" y="649.30" width="13.9" height="13.9" fill="#fff"/>
<rect x="971.36" y="662.95" width="13.9" height="13.9" fill="#fff"/>
<rect x="985.24" y="662.95" width="13.9" height="13.9" fill="#fff"/>
<rect x="999.12" y="662.95" width="13.9" height="13.9" fill="#fff"/>
<rect x="1013.00" y="662.95" width="13.9" height="13.9" fill="#fff"/>
<rect x="943.60" y="676.60" width="13.9" height="13.9" fill="#fff"/>
<rect x="957.48" y="676.60" width="13.9" height="13.9" fill="#fff"/>
<rect x="971.36" y="676.60" width="13.9" height="13.9" fill="#fff"/>
<rect x="985.24" y="676.60" width="13.9" height="13.9" fill="#fff"/>
<rect x="999.12" y="676.60" width="13.9" height="13.9" fill="#fff"/>
<rect x="1013.00" y="676.60" width="13.9" height="13.9" fill="#fff"/>
<rect x="943.92" y="709.10" width="13.9" height="13.9" fill="#fff"/>
<rect x="957.73" y="709.10" width="13.9" height="13.9" fill="#fff"/>
<rect x="971.54" y="709.10" width="13.9" height="13.9" fill="#fff"/>
<rect x="985.35" y="709.10" width="13.9" height="13.9" fill="#fff"/>
<rect x="999.16" y="709.10" width="13.9" height="13.9" fill="#fff"/>
<rect x="1012.97" y="709.10" width="13.9" height="13.9" fill="#fff"/>
<rect x="916.30" y="722.85" width="13.9" height="13.9" fill="#fff"/>
<rect x="930.11" y="722.85" width="13.9" height="13.9" fill="#fff"/>
<rect x="943.92" y="722.85" width="13.9" height="13.9" fill="#fff"/>
<rect x="957.73" y="722.85" width="13.9" height="13.9" fill="#fff"/>
<rect x="971.54" y="722.85" width="13.9" height="13.9" fill="#fff"/>
<rect x="985.35" y="722.85" width="13.9" height="13.9" fill="#fff"/>
<rect x="999.16" y="722.85" width="13.9" height="13.9" fill="#fff"/>
<rect x="1012.97" y="722.85" width="13.9" height="13.9" fill="#fff"/>
<rect x="999.16" y="736.60" width="13.9" height="13.9" fill="#fff"/>
<rect x="1012.97" y="736.60" width="13.9" height="13.9" fill="#fff"/>
<rect x="927.00" y="761.30" width="13.9" height="13.9" fill="#fff"/>
<rect x="940.80" y="761.30" width="13.9" height="13.9" fill="#fff"/>
<rect x="954.60" y="761.30" width="13.9" height="13.9" fill="#fff"/>
<rect x="968.40" y="761.30" width="13.9" height="13.9" fill="#fff"/>
<rect x="940.80" y="775.00" width="13.9" height="13.9" fill="#fff"/>
<rect x="954.60" y="775.00" width="13.9" height="13.9" fill="#fff"/>
<rect x="968.40" y="775.00" width="13.9" height="13.9" fill="#fff"/>
<rect x="940.80" y="788.70" width="13.9" height="13.9" fill="#fff"/>
<rect x="954.60" y="788.70" width="13.9" height="13.9" fill="#fff"/>
<rect x="874.80" y="785.40" width="13.9" height="13.9" fill="#fff"/>
<rect x="888.70" y="785.40" width="13.9" height="13.9" fill="#fff"/>
<rect x="874.80" y="799.28" width="13.9" height="13.9" fill="#fff"/>
<rect x="888.70" y="799.28" width="13.9" height="13.9" fill="#fff"/>
<rect x="902.60" y="799.28" width="13.9" height="13.9" fill="#fff"/>
<rect x="874.80" y="813.16" width="13.9" height="13.9" fill="#fff"/>
<rect x="888.70" y="813.16" width="13.9" height="13.9" fill="#fff"/>
<rect x="902.60" y="813.16" width="13.9" height="13.9" fill="#fff"/>
<rect x="874.80" y="827.04" width="13.9" height="13.9" fill="#fff"/>
<rect x="888.70" y="827.04" width="13.9" height="13.9" fill="#fff"/>
<rect x="902.60" y="827.04" width="13.9" height="13.9" fill="#fff"/>
<rect x="916.50" y="827.04" width="13.9" height="13.9" fill="#fff"/>
<rect x="874.80" y="840.92" width="13.9" height="13.9" fill="#fff"/>
<rect x="888.70" y="840.92" width="13.9" height="13.9" fill="#fff"/>
<rect x="902.60" y="840.92" width="13.9" height="13.9" fill="#fff"/>
<rect x="916.50" y="840.92" width="13.9" height="13.9" fill="#fff"/>
<rect x="849.70" y="876.10" width="13.9" height="13.9" fill="#fff"/>
<rect x="863.48" y="876.10" width="13.9" height="13.9" fill="#fff"/>
<rect x="877.26" y="876.10" width="13.9" height="13.9" fill="#fff"/>
<rect x="891.04" y="876.10" width="13.9" height="13.9" fill="#fff"/>
<rect x="904.82" y="876.10" width="13.9" height="13.9" fill="#fff"/>
<rect x="918.60" y="876.10" width="13.9" height="13.9" fill="#fff"/>
<rect x="932.38" y="876.10" width="13.9" height="13.9" fill="#fff"/>
<rect x="918.60" y="889.88" width="13.9" height="13.9" fill="#fff"/>
<rect x="932.38" y="889.88" width="13.9" height="13.9" fill="#fff"/>
<rect x="946.16" y="889.88" width="13.9" height="13.9" fill="#fff"/>
<rect x="918.60" y="903.66" width="13.9" height="13.9" fill="#fff"/>
<rect x="932.38" y="903.66" width="13.9" height="13.9" fill="#fff"/>
<rect x="946.16" y="903.66" width="13.9" height="13.9" fill="#fff"/>
<rect x="932.38" y="917.44" width="13.9" height="13.9" fill="#fff"/>
<rect x="946.16" y="917.44" width="13.9" height="13.9" fill="#fff"/>
<rect x="959.94" y="917.44" width="13.9" height="13.9" fill="#fff"/>
<rect x="932.38" y="931.22" width="13.9" height="13.9" fill="#fff"/>
<rect x="946.16" y="931.22" width="13.9" height="13.9" fill="#fff"/>
<rect x="959.94" y="931.22" width="13.9" height="13.9" fill="#fff"/>
<rect x="932.38" y="945.00" width="13.9" height="13.9" fill="#fff"/>
<rect x="946.16" y="945.00" width="13.9" height="13.9" fill="#fff"/>
<rect x="959.94" y="945.00" width="13.9" height="13.9" fill="#fff"/>
<rect x="973.72" y="945.00" width="13.9" height="13.9" fill="#fff"/>
<rect x="946.16" y="958.78" width="13.9" height="13.9" fill="#fff"/>
<rect x="959.94" y="958.78" width="13.9" height="13.9" fill="#fff"/>
<rect x="973.72" y="958.78" width="13.9" height="13.9" fill="#fff"/>
<rect x="959.94" y="972.56" width="13.9" height="13.9" fill="#fff"/>
<rect x="973.72" y="972.56" width="13.9" height="13.9" fill="#fff"/>
<rect x="987.50" y="972.56" width="13.9" height="13.9" fill="#fff"/>
<rect x="973.72" y="986.34" width="13.9" height="13.9" fill="#fff"/>
<rect x="801.50" y="801.00" width="13.9" height="13.9" fill="#fff"/>
<rect x="815.40" y="801.00" width="13.9" height="13.9" fill="#fff"/>
<rect x="801.50" y="814.60" width="13.9" height="13.9" fill="#fff"/>
<rect x="815.40" y="814.60" width="13.9" height="13.9" fill="#fff"/>
<rect x="829.30" y="814.60" width="13.9" height="13.9" fill="#fff"/>
<rect x="801.50" y="828.20" width="13.9" height="13.9" fill="#fff"/>
<rect x="815.40" y="828.20" width="13.9" height="13.9" fill="#fff"/>
<rect x="829.30" y="828.20" width="13.9" height="13.9" fill="#fff"/>
<rect x="801.50" y="841.80" width="13.9" height="13.9" fill="#fff"/>
<rect x="743.00" y="807.40" width="13.9" height="13.9" fill="#fff"/>
<rect x="756.90" y="807.40" width="13.9" height="13.9" fill="#fff"/>
<rect x="743.00" y="821.15" width="13.9" height="13.9" fill="#fff"/>
<rect x="756.90" y="821.15" width="13.9" height="13.9" fill="#fff"/>
<rect x="743.00" y="834.90" width="13.9" height="13.9" fill="#fff"/>
<rect x="756.90" y="834.90" width="13.9" height="13.9" fill="#fff"/>
<rect x="777.10" y="727.40" width="13.9" height="13.9" fill="#fff"/>
<rect x="791.00" y="727.40" width="13.9" height="13.9" fill="#fff"/>
<rect x="804.90" y="727.40" width="13.9" height="13.9" fill="#fff"/>
<rect x="818.80" y="727.40" width="13.9" height="13.9" fill="#fff"/>
<rect x="832.70" y="727.40" width="13.9" height="13.9" fill="#fff"/>
<rect x="846.60" y="727.40" width="13.9" height="13.9" fill="#fff"/>
<rect x="860.50" y="727.40" width="13.9" height="13.9" fill="#fff"/>
<rect x="777.10" y="741.15" width="13.9" height="13.9" fill="#fff"/>
<rect x="791.00" y="741.15" width="13.9" height="13.9" fill="#fff"/>
<rect x="804.90" y="741.15" width="13.9" height="13.9" fill="#fff"/>
<rect x="818.80" y="741.15" width="13.9" height="13.9" fill="#fff"/>
<rect x="675.30" y="856.40" width="13.9" height="13.9" fill="#fff"/>
<rect x="689.20" y="856.40" width="13.9" height="13.9" fill="#fff"/>
<rect x="675.30" y="870.05" width="13.9" height="13.9" fill="#fff"/>
<rect x="689.20" y="870.05" width="13.9" height="13.9" fill="#fff"/>
<rect x="675.30" y="883.70" width="13.9" height="13.9" fill="#fff"/>
<rect x="689.20" y="883.70" width="13.9" height="13.9" fill="#fff"/>
<rect x="703.10" y="883.70" width="13.9" height="13.9" fill="#fff"/>
<rect x="717.00" y="883.70" width="13.9" height="13.9" fill="#fff"/>
<rect x="674.20" y="756.60" width="13.9" height="13.9" fill="#fff"/>
<rect x="688.10" y="756.60" width="13.9" height="13.9" fill="#fff"/>
<rect x="674.20" y="770.35" width="13.9" height="13.9" fill="#fff"/>
<rect x="688.10" y="770.35" width="13.9" height="13.9" fill="#fff"/>
<rect x="674.20" y="784.10" width="13.9" height="13.9" fill="#fff"/>
<rect x="688.10" y="784.10" width="13.9" height="13.9" fill="#fff"/>
<rect x="659.90" y="662.00" width="13.9" height="13.9" fill="#fff"/>
<rect x="673.90" y="662.00" width="13.9" height="13.9" fill="#fff"/>
<rect x="687.90" y="662.00" width="13.9" height="13.9" fill="#fff"/>
<rect x="659.90" y="675.65" width="13.9" height="13.9" fill="#fff"/>
<rect x="673.90" y="675.65" width="13.9" height="13.9" fill="#fff"/>
<rect x="687.90" y="675.65" width="13.9" height="13.9" fill="#fff"/>
<rect x="659.90" y="689.30" width="13.9" height="13.9" fill="#fff"/>
<rect x="673.90" y="689.30" width="13.9" height="13.9" fill="#fff"/>
<rect x="687.90" y="689.30" width="13.9" height="13.9" fill="#fff"/>
<rect x="701.90" y="689.30" width="13.9" height="13.9" fill="#fff"/>
<rect x="642.20" y="568.20" width="13.9" height="13.9" fill="#fff"/>
<rect x="656.10" y="568.20" width="13.9" height="13.9" fill="#fff"/>
<rect x="670.00" y="568.20" width="13.9" height="13.9" fill="#fff"/>
<rect x="642.20" y="581.95" width="13.9" height="13.9" fill="#fff"/>
<rect x="656.10" y="581.95" width="13.9" height="13.9" fill="#fff"/>
<rect x="670.00" y="581.95" width="13.9" height="13.9" fill="#fff"/>
<rect x="733.90" y="593.10" width="13.9" height="13.9" fill="#fff"/>
<rect x="747.80" y="593.10" width="13.9" height="13.9" fill="#fff"/>
<rect x="761.70" y="593.10" width="13.9" height="13.9" fill="#fff"/>
<rect x="720.00" y="606.92" width="13.9" height="13.9" fill="#fff"/>
<rect x="733.90" y="606.92" width="13.9" height="13.9" fill="#fff"/>
<rect x="747.80" y="606.92" width="13.9" height="13.9" fill="#fff"/>
<rect x="761.70" y="606.92" width="13.9" height="13.9" fill="#fff"/>
<rect x="720.00" y="620.74" width="13.9" height="13.9" fill="#fff"/>
<rect x="733.90" y="620.74" width="13.9" height="13.9" fill="#fff"/>
<rect x="747.80" y="620.74" width="13.9" height="13.9" fill="#fff"/>
<rect x="761.70" y="620.74" width="13.9" height="13.9" fill="#fff"/>
<rect x="733.90" y="634.56" width="13.9" height="13.9" fill="#fff"/>
<rect x="747.80" y="634.56" width="13.9" height="13.9" fill="#fff"/>
<rect x="761.70" y="634.56" width="13.9" height="13.9" fill="#fff"/>
<rect x="733.90" y="648.38" width="13.9" height="13.9" fill="#fff"/>
<rect x="747.80" y="648.38" width="13.9" height="13.9" fill="#fff"/>
<rect x="761.70" y="648.38" width="13.9" height="13.9" fill="#fff"/>
<rect x="747.80" y="662.20" width="13.9" height="13.9" fill="#fff"/>
<rect x="761.70" y="662.20" width="13.9" height="13.9" fill="#fff"/>
<rect x="798.90" y="593.80" width="13.9" height="13.9" fill="#fff"/>
<rect x="812.80" y="593.80" width="13.9" height="13.9" fill="#fff"/>
<rect x="798.90" y="607.55" width="13.9" height="13.9" fill="#fff"/>
<rect x="812.80" y="607.55" width="13.9" height="13.9" fill="#fff"/>
<rect x="798.90" y="621.30" width="13.9" height="13.9" fill="#fff"/>
<rect x="812.80" y="621.30" width="13.9" height="13.9" fill="#fff"/>
<rect x="798.90" y="635.05" width="13.9" height="13.9" fill="#fff"/>
<rect x="812.80" y="635.05" width="13.9" height="13.9" fill="#fff"/>
<rect x="798.90" y="648.80" width="13.9" height="13.9" fill="#fff"/>
<rect x="812.80" y="648.80" width="13.9" height="13.9" fill="#fff"/>
<rect x="798.90" y="662.55" width="13.9" height="13.9" fill="#fff"/>
<rect x="552.40" y="746.30" width="13.9" height="13.9" fill="#fff"/>
<rect x="566.30" y="746.30" width="13.9" height="13.9" fill="#fff"/>
<rect x="580.20" y="746.30" width="13.9" height="13.9" fill="#fff"/>
<rect x="594.10" y="746.30" width="13.9" height="13.9" fill="#fff"/>
<rect x="566.30" y="760.05" width="13.9" height="13.9" fill="#fff"/>
<rect x="580.20" y="760.05" width="13.9" height="13.9" fill="#fff"/>
<rect x="594.10" y="760.05" width="13.9" height="13.9" fill="#fff"/>
<rect x="539.50" y="664.70" width="13.9" height="13.9" fill="#fff"/>
<rect x="553.40" y="664.70" width="13.9" height="13.9" fill="#fff"/>
<rect x="567.30" y="664.70" width="13.9" height="13.9" fill="#fff"/>
<rect x="539.50" y="678.45" width="13.9" height="13.9" fill="#fff"/>
<rect x="553.40" y="678.45" width="13.9" height="13.9" fill="#fff"/>
<rect x="567.30" y="678.45" width="13.9" height="13.9" fill="#fff"/>
<rect x="516.50" y="585.30" width="13.9" height="13.9" fill="#fff"/>
<rect x="530.40" y="585.30" width="13.9" height="13.9" fill="#fff"/>
<rect x="544.30" y="585.30" width="13.9" height="13.9" fill="#fff"/>
<rect x="530.40" y="599.05" width="13.9" height="13.9" fill="#fff"/>
<rect x="544.30" y="599.05" width="13.9" height="13.9" fill="#fff"/>
<rect x="371.80" y="641.30" width="13.9" height="13.9" fill="#fff"/>
<rect x="385.85" y="641.30" width="13.9" height="13.9" fill="#fff"/>
<rect x="399.90" y="641.30" width="13.9" height="13.9" fill="#fff"/>
<rect x="413.95" y="641.30" width="13.9" height="13.9" fill="#fff"/>
<rect x="428.00" y="641.30" width="13.9" height="13.9" fill="#fff"/>
<rect x="371.80" y="655.05" width="13.9" height="13.9" fill="#fff"/>
<rect x="385.85" y="655.05" width="13.9" height="13.9" fill="#fff"/>
<rect x="399.90" y="655.05" width="13.9" height="13.9" fill="#fff"/>
<rect x="413.95" y="655.05" width="13.9" height="13.9" fill="#fff"/>
<rect x="428.00" y="655.05" width="13.9" height="13.9" fill="#fff"/>
<rect x="371.60" y="759.50" width="13.9" height="13.9" fill="#fff"/>
<rect x="385.50" y="759.50" width="13.9" height="13.9" fill="#fff"/>
<rect x="371.60" y="773.25" width="13.9" height="13.9" fill="#fff"/>
<rect x="385.50" y="773.25" width="13.9" height="13.9" fill="#fff"/>
<rect x="371.60" y="787.00" width="13.9" height="13.9" fill="#fff"/>
<rect x="508.22" y="813.80" width="13.9" height="13.9" fill="#fff"/>
<rect x="522.13" y="813.80" width="13.9" height="13.9" fill="#fff"/>
<rect x="508.22" y="827.60" width="13.9" height="13.9" fill="#fff"/>
<rect x="522.13" y="827.60" width="13.9" height="13.9" fill="#fff"/>
<rect x="508.22" y="841.40" width="13.9" height="13.9" fill="#fff"/>
<rect x="522.13" y="841.40" width="13.9" height="13.9" fill="#fff"/>
<rect x="536.04" y="841.40" width="13.9" height="13.9" fill="#fff"/>
<rect x="549.95" y="841.40" width="13.9" height="13.9" fill="#fff"/>
<rect x="563.86" y="841.40" width="13.9" height="13.9" fill="#fff"/>
<rect x="577.77" y="841.40" width="13.9" height="13.9" fill="#fff"/>
<rect x="480.40" y="855.20" width="13.9" height="13.9" fill="#fff"/>
<rect x="494.31" y="855.20" width="13.9" height="13.9" fill="#fff"/>
<rect x="508.22" y="855.20" width="13.9" height="13.9" fill="#fff"/>
<rect x="522.13" y="855.20" width="13.9" height="13.9" fill="#fff"/>
<rect x="536.04" y="855.20" width="13.9" height="13.9" fill="#fff"/>
<rect x="549.95" y="855.20" width="13.9" height="13.9" fill="#fff"/>
<rect x="563.86" y="855.20" width="13.9" height="13.9" fill="#fff"/>
<rect x="577.77" y="855.20" width="13.9" height="13.9" fill="#fff"/>
<rect x="494.31" y="869.00" width="13.9" height="13.9" fill="#fff"/>
<rect x="508.22" y="869.00" width="13.9" height="13.9" fill="#fff"/>
<rect x="522.13" y="869.00" width="13.9" height="13.9" fill="#fff"/>
<rect x="536.04" y="869.00" width="13.9" height="13.9" fill="#fff"/>
<rect x="549.95" y="869.00" width="13.9" height="13.9" fill="#fff"/>
<rect x="563.86" y="869.00" width="13.9" height="13.9" fill="#fff"/>
<rect x="577.77" y="869.00" width="13.9" height="13.9" fill="#fff"/>
<rect x="508.22" y="882.80" width="13.9" height="13.9" fill="#fff"/>
<rect x="522.13" y="882.80" width="13.9" height="13.9" fill="#fff"/>
<rect x="536.04" y="882.80" width="13.9" height="13.9" fill="#fff"/>
<rect x="549.95" y="882.80" width="13.9" height="13.9" fill="#fff"/>
<rect x="563.86" y="882.80" width="13.9" height="13.9" fill="#fff"/>
<rect x="577.77" y="882.80" width="13.9" height="13.9" fill="#fff"/>
<rect x="522.13" y="896.60" width="13.9" height="13.9" fill="#fff"/>
<rect x="536.04" y="896.60" width="13.9" height="13.9" fill="#fff"/>
<rect x="549.95" y="896.60" width="13.9" height="13.9" fill="#fff"/>
<rect x="563.86" y="896.60" width="13.9" height="13.9" fill="#fff"/>
<rect x="536.04" y="910.40" width="13.9" height="13.9" fill="#fff"/>
<rect x="549.95" y="910.40" width="13.9" height="13.9" fill="#fff"/>
<rect x="536.04" y="924.20" width="13.9" height="13.9" fill="#fff"/>
<rect x="549.95" y="924.20" width="13.9" height="13.9" fill="#fff"/>
<rect x="549.95" y="938.00" width="13.9" height="13.9" fill="#fff"/>
<rect x="273.50" y="613.40" width="13.9" height="13.9" fill="#fff"/>
<rect x="287.40" y="613.40" width="13.9" height="13.9" fill="#fff"/>
<rect x="273.50" y="626.75" width="13.9" height="13.9" fill="#fff"/>
<rect x="287.40" y="626.75" width="13.9" height="13.9" fill="#fff"/>
<rect x="273.50" y="640.10" width="13.9" height="13.9" fill="#fff"/>
<rect x="287.40" y="640.10" width="13.9" height="13.9" fill="#fff"/>
<rect x="239.40" y="733.80" width="13.9" height="13.9" fill="#fff"/>
<rect x="253.40" y="733.80" width="13.9" height="13.9" fill="#fff"/>
<rect x="267.40" y="733.80" width="13.9" height="13.9" fill="#fff"/>
<rect x="239.40" y="747.63" width="13.9" height="13.9" fill="#fff"/>
<rect x="253.40" y="747.63" width="13.9" height="13.9" fill="#fff"/>
<rect x="267.40" y="747.63" width="13.9" height="13.9" fill="#fff"/>
<rect x="239.40" y="761.46" width="13.9" height="13.9" fill="#fff"/>
<rect x="253.40" y="761.46" width="13.9" height="13.9" fill="#fff"/>
<rect x="267.40" y="761.46" width="13.9" height="13.9" fill="#fff"/>
<rect x="253.40" y="775.29" width="13.9" height="13.9" fill="#fff"/>
<rect x="267.40" y="775.29" width="13.9" height="13.9" fill="#fff"/>
<rect x="165.50" y="590.60" width="13.9" height="13.9" fill="#fff"/>
<rect x="179.40" y="590.60" width="13.9" height="13.9" fill="#fff"/>
<rect x="165.50" y="604.10" width="13.9" height="13.9" fill="#fff"/>
<rect x="179.40" y="604.10" width="13.9" height="13.9" fill="#fff"/>
<rect x="165.50" y="617.60" width="13.9" height="13.9" fill="#fff"/>
<rect x="179.40" y="617.60" width="13.9" height="13.9" fill="#fff"/>
<rect x="67.20" y="550.50" width="13.9" height="13.9" fill="#fff"/>
<rect x="80.94" y="550.50" width="13.9" height="13.9" fill="#fff"/>
<rect x="94.68" y="550.50" width="13.9" height="13.9" fill="#fff"/>
<rect x="67.20" y="564.29" width="13.9" height="13.9" fill="#fff"/>
<rect x="80.94" y="564.29" width="13.9" height="13.9" fill="#fff"/>
<rect x="94.68" y="564.29" width="13.9" height="13.9" fill="#fff"/>
<rect x="67.20" y="578.08" width="13.9" height="13.9" fill="#fff"/>
<rect x="80.94" y="578.08" width="13.9" height="13.9" fill="#fff"/>
<rect x="94.68" y="578.08" width="13.9" height="13.9" fill="#fff"/>
<rect x="67.20" y="591.87" width="13.9" height="13.9" fill="#fff"/>
<rect x="80.94" y="591.87" width="13.9" height="13.9" fill="#fff"/>
<rect x="94.68" y="591.87" width="13.9" height="13.9" fill="#fff"/>
<rect x="67.20" y="605.66" width="13.9" height="13.9" fill="#fff"/>
<rect x="80.94" y="605.66" width="13.9" height="13.9" fill="#fff"/>
<rect x="94.68" y="605.66" width="13.9" height="13.9" fill="#fff"/>
<rect x="67.20" y="619.45" width="13.9" height="13.9" fill="#fff"/>
<rect x="80.94" y="619.45" width="13.9" height="13.9" fill="#fff"/>
<rect x="94.68" y="619.45" width="13.9" height="13.9" fill="#fff"/>
<rect x="67.20" y="633.24" width="13.9" height="13.9" fill="#fff"/>
<rect x="80.94" y="633.24" width="13.9" height="13.9" fill="#fff"/>
<rect x="94.68" y="633.24" width="13.9" height="13.9" fill="#fff"/>
<rect x="67.20" y="647.03" width="13.9" height="13.9" fill="#fff"/>
<rect x="80.94" y="647.03" width="13.9" height="13.9" fill="#fff"/>
<rect x="94.68" y="647.03" width="13.9" height="13.9" fill="#fff"/>
<rect x="108.42" y="647.03" width="13.9" height="13.9" fill="#fff"/>
<rect x="80.94" y="660.82" width="13.9" height="13.9" fill="#fff"/>
<rect x="94.68" y="660.82" width="13.9" height="13.9" fill="#fff"/>
<rect x="108.42" y="660.82" width="13.9" height="13.9" fill="#fff"/>
<rect x="122.16" y="660.82" width="13.9" height="13.9" fill="#fff"/>
<rect x="80.94" y="674.61" width="13.9" height="13.9" fill="#fff"/>
<rect x="94.68" y="674.61" width="13.9" height="13.9" fill="#fff"/>
<rect x="108.42" y="674.61" width="13.9" height="13.9" fill="#fff"/>
<rect x="122.16" y="674.61" width="13.9" height="13.9" fill="#fff"/>
<rect x="94.68" y="688.40" width="13.9" height="13.9" fill="#fff"/>
<rect x="108.42" y="688.40" width="13.9" height="13.9" fill="#fff"/>
<rect x="122.16" y="688.40" width="13.9" height="13.9" fill="#fff"/>
<rect x="135.90" y="688.40" width="13.9" height="13.9" fill="#fff"/>
<rect x="94.68" y="702.19" width="13.9" height="13.9" fill="#fff"/>
<rect x="108.42" y="702.19" width="13.9" height="13.9" fill="#fff"/>
<rect x="122.16" y="702.19" width="13.9" height="13.9" fill="#fff"/>
<rect x="135.90" y="702.19" width="13.9" height="13.9" fill="#fff"/>
<rect x="149.64" y="702.19" width="13.9" height="13.9" fill="#fff"/>
<rect x="108.42" y="715.98" width="13.9" height="13.9" fill="#fff"/>
<rect x="122.16" y="715.98" width="13.9" height="13.9" fill="#fff"/>
<rect x="135.90" y="715.98" width="13.9" height="13.9" fill="#fff"/>
<rect x="149.64" y="715.98" width="13.9" height="13.9" fill="#fff"/>
<rect x="163.38" y="715.98" width="13.9" height="13.9" fill="#fff"/>
<rect x="122.16" y="729.77" width="13.9" height="13.9" fill="#fff"/>
<rect x="135.90" y="729.77" width="13.9" height="13.9" fill="#fff"/>
<rect x="149.64" y="729.77" width="13.9" height="13.9" fill="#fff"/>
<rect x="163.38" y="729.77" width="13.9" height="13.9" fill="#fff"/>
<rect x="135.90" y="743.56" width="13.9" height="13.9" fill="#fff"/>
<rect x="149.64" y="743.56" width="13.9" height="13.9" fill="#fff"/>
<rect x="163.38" y="743.56" width="13.9" height="13.9" fill="#fff"/>
<rect x="124.20" y="918.60" width="13.9" height="13.9" fill="#fff"/>
<rect x="138.10" y="918.60" width="13.9" height="13.9" fill="#fff"/>
<rect x="152.00" y="918.60" width="13.9" height="13.9" fill="#fff"/>
<rect x="339.60" y="987.60" width="13.9" height="13.9" fill="#fff"/>
<rect x="353.50" y="987.60" width="13.9" height="13.9" fill="#fff"/>
<rect x="339.60" y="1001.35" width="13.9" height="13.9" fill="#fff"/>
<rect x="353.50" y="1001.35" width="13.9" height="13.9" fill="#fff"/>
<rect x="147.40" y="362.20" width="12.1" height="12.1" fill="#dcdcdc"/>
<rect x="161.30" y="362.20" width="12.1" height="12.1" fill="#dcdcdc"/>
<rect x="175.20" y="362.20" width="12.1" height="12.1" fill="#dcdcdc"/>
<rect x="189.10" y="362.20" width="12.1" height="12.1" fill="#dcdcdc"/>
<rect x="147.40" y="376.10" width="12.1" height="12.1" fill="#dcdcdc"/>
<rect x="161.30" y="376.10" width="12.1" height="12.1" fill="#dcdcdc"/>
<rect x="175.20" y="376.10" width="12.1" height="12.1" fill="#dcdcdc"/>
<rect x="189.10" y="376.10" width="12.1" height="12.1" fill="#dcdcdc"/>
<rect x="147.40" y="390.00" width="12.1" height="12.1" fill="#dcdcdc"/>
<rect x="161.30" y="390.00" width="12.1" height="12.1" fill="#dcdcdc"/>
<rect x="175.20" y="390.00" width="12.1" height="12.1" fill="#dcdcdc"/>
<rect x="189.10" y="390.00" width="12.1" height="12.1" fill="#dcdcdc"/>
<rect x="109.50" y="456.00" width="12.1" height="12.1" fill="#d98a9a"/>
<rect x="123.40" y="456.00" width="12.1" height="12.1" fill="#d98a9a"/>
<rect x="137.30" y="456.00" width="12.1" height="12.1" fill="#d98a9a"/>
<rect x="151.20" y="456.00" width="12.1" height="12.1" fill="#d98a9a"/>
<rect x="109.50" y="469.75" width="12.1" height="12.1" fill="#d98a9a"/>
<rect x="123.40" y="469.75" width="12.1" height="12.1" fill="#d98a9a"/>
<rect x="137.30" y="469.75" width="12.1" height="12.1" fill="#d98a9a"/>
<rect x="151.20" y="469.75" width="12.1" height="12.1" fill="#d98a9a"/>
<rect x="236.30" y="486.00" width="12.1" height="12.1" fill="#dcdcdc"/>
<rect x="250.20" y="486.00" width="12.1" height="12.1" fill="#dcdcdc"/>
<rect x="236.30" y="499.75" width="12.1" height="12.1" fill="#dcdcdc"/>
<rect x="250.20" y="499.75" width="12.1" height="12.1" fill="#dcdcdc"/>
<rect x="350.50" y="417.80" width="12.1" height="12.1" fill="#b82a35"/>
<rect x="364.40" y="417.80" width="12.1" height="12.1" fill="#b82a35"/>
<rect x="350.50" y="431.55" width="12.1" height="12.1" fill="#b82a35"/>
<rect x="364.40" y="431.55" width="12.1" height="12.1" fill="#b82a35"/>
<rect x="516.10" y="429.60" width="12.1" height="12.1" fill="#b82a35"/>
<rect x="530.00" y="429.60" width="12.1" height="12.1" fill="#b82a35"/>
<rect x="543.90" y="429.60" width="12.1" height="12.1" fill="#b82a35"/>
<rect x="511.20" y="506.70" width="12.1" height="12.1" fill="#b82a35"/>
<rect x="525.10" y="506.70" width="12.1" height="12.1" fill="#b82a35"/>
<rect x="539.00" y="506.70" width="12.1" height="12.1" fill="#b82a35"/>
<rect x="362.20" y="533.00" width="12.1" height="12.1" fill="#b82a35"/>
<rect x="376.10" y="533.00" width="12.1" height="12.1" fill="#b82a35"/>
<rect x="390.00" y="533.00" width="12.1" height="12.1" fill="#b82a35"/>
<rect x="618.00" y="451.90" width="12.1" height="12.1" fill="#d98a9a"/>
<rect x="632.00" y="451.90" width="12.1" height="12.1" fill="#d98a9a"/>
<rect x="646.00" y="451.90" width="12.1" height="12.1" fill="#d98a9a"/>
<rect x="618.00" y="465.70" width="12.1" height="12.1" fill="#d98a9a"/>
<rect x="632.00" y="465.70" width="12.1" height="12.1" fill="#d98a9a"/>
<rect x="618.00" y="479.50" width="12.1" height="12.1" fill="#d98a9a"/>
<rect x="632.00" y="479.50" width="12.1" height="12.1" fill="#d98a9a"/>
<rect x="618.00" y="493.30" width="12.1" height="12.1" fill="#d98a9a"/>
<rect x="632.00" y="493.30" width="12.1" height="12.1" fill="#d98a9a"/>
<rect x="646.00" y="493.30" width="12.1" height="12.1" fill="#d98a9a"/>
<rect x="711.50" y="488.20" width="12.1" height="12.1" fill="#d98a9a"/>
<rect x="725.40" y="488.20" width="12.1" height="12.1" fill="#d98a9a"/>
<rect x="739.30" y="488.20" width="12.1" height="12.1" fill="#d98a9a"/>
<rect x="711.50" y="501.95" width="12.1" height="12.1" fill="#d98a9a"/>
<rect x="725.40" y="501.95" width="12.1" height="12.1" fill="#d98a9a"/>
<rect x="739.30" y="501.95" width="12.1" height="12.1" fill="#d98a9a"/>
<rect x="725.40" y="515.70" width="12.1" height="12.1" fill="#d98a9a"/>
<rect x="739.30" y="515.70" width="12.1" height="12.1" fill="#d98a9a"/>
<rect x="725.40" y="529.45" width="12.1" height="12.1" fill="#d98a9a"/>
<rect x="739.30" y="529.45" width="12.1" height="12.1" fill="#d98a9a"/>
<rect x="808.60" y="505.20" width="12.1" height="12.1" fill="#8fb9e3"/>
<rect x="822.50" y="505.20" width="12.1" height="12.1" fill="#8fb9e3"/>
<rect x="836.40" y="505.20" width="12.1" height="12.1" fill="#8fb9e3"/>
<rect x="808.60" y="518.90" width="12.1" height="12.1" fill="#8fb9e3"/>
<rect x="822.50" y="518.90" width="12.1" height="12.1" fill="#8fb9e3"/>
<rect x="836.40" y="518.90" width="12.1" height="12.1" fill="#8fb9e3"/>
<rect x="850.30" y="518.90" width="12.1" height="12.1" fill="#8fb9e3"/>
<rect x="808.60" y="532.60" width="12.1" height="12.1" fill="#8fb9e3"/>
<rect x="822.50" y="532.60" width="12.1" height="12.1" fill="#8fb9e3"/>
<rect x="836.40" y="532.60" width="12.1" height="12.1" fill="#8fb9e3"/>
<rect x="850.30" y="532.60" width="12.1" height="12.1" fill="#8fb9e3"/>
<rect x="808.60" y="546.30" width="12.1" height="12.1" fill="#8fb9e3"/>
<rect x="822.50" y="546.30" width="12.1" height="12.1" fill="#8fb9e3"/>
<rect x="836.40" y="546.30" width="12.1" height="12.1" fill="#8fb9e3"/>
<rect x="850.30" y="546.30" width="12.1" height="12.1" fill="#8fb9e3"/>
<rect x="993.86" y="461.10" width="12.1" height="12.1" fill="#3474c4"/>
<rect x="1007.60" y="461.10" width="12.1" height="12.1" fill="#3474c4"/>
<rect x="1021.34" y="461.10" width="12.1" height="12.1" fill="#3474c4"/>
<rect x="1035.08" y="461.10" width="12.1" height="12.1" fill="#3474c4"/>
<rect x="993.86" y="475.06" width="12.1" height="12.1" fill="#3474c4"/>
<rect x="1007.60" y="475.06" width="12.1" height="12.1" fill="#3474c4"/>
<rect x="1021.34" y="475.06" width="12.1" height="12.1" fill="#3474c4"/>
<rect x="1035.08" y="475.06" width="12.1" height="12.1" fill="#3474c4"/>
<rect x="993.86" y="489.02" width="12.1" height="12.1" fill="#3474c4"/>
<rect x="1007.60" y="489.02" width="12.1" height="12.1" fill="#3474c4"/>
<rect x="1021.34" y="489.02" width="12.1" height="12.1" fill="#3474c4"/>
<rect x="1035.08" y="489.02" width="12.1" height="12.1" fill="#3474c4"/>
<rect x="952.64" y="502.98" width="12.1" height="12.1" fill="#3474c4"/>
<rect x="966.38" y="502.98" width="12.1" height="12.1" fill="#3474c4"/>
<rect x="980.12" y="502.98" width="12.1" height="12.1" fill="#3474c4"/>
<rect x="993.86" y="502.98" width="12.1" height="12.1" fill="#3474c4"/>
<rect x="1007.60" y="502.98" width="12.1" height="12.1" fill="#3474c4"/>
<rect x="1021.34" y="502.98" width="12.1" height="12.1" fill="#3474c4"/>
<rect x="1035.08" y="502.98" width="12.1" height="12.1" fill="#3474c4"/>
<rect x="938.90" y="516.94" width="12.1" height="12.1" fill="#3474c4"/>
<rect x="952.64" y="516.94" width="12.1" height="12.1" fill="#3474c4"/>
<rect x="966.38" y="516.94" width="12.1" height="12.1" fill="#3474c4"/>
<rect x="980.12" y="516.94" width="12.1" height="12.1" fill="#3474c4"/>
<rect x="993.86" y="516.94" width="12.1" height="12.1" fill="#3474c4"/>
<rect x="1007.60" y="516.94" width="12.1" height="12.1" fill="#3474c4"/>
<rect x="1021.34" y="516.94" width="12.1" height="12.1" fill="#3474c4"/>
<rect x="1035.08" y="516.94" width="12.1" height="12.1" fill="#3474c4"/>
<rect x="1035.08" y="530.90" width="12.1" height="12.1" fill="#3474c4"/>
<rect x="1054.10" y="446.40" width="12.1" height="12.1" fill="#3474c4"/>
<rect x="1054.10" y="460.15" width="12.1" height="12.1" fill="#3474c4"/>
<rect x="1054.10" y="473.90" width="12.1" height="12.1" fill="#3474c4"/>
<rect x="1088.90" y="445.80" width="12.1" height="12.1" fill="#8fb9e3"/>
<rect x="1088.90" y="459.55" width="12.1" height="12.1" fill="#8fb9e3"/>
<rect x="1075.00" y="473.30" width="12.1" height="12.1" fill="#8fb9e3"/>
<rect x="1088.90" y="473.30" width="12.1" height="12.1" fill="#8fb9e3"/>
<rect x="1101.20" y="405.20" width="12.1" height="12.1" fill="#d98a9a"/>
<rect x="1115.10" y="405.20" width="12.1" height="12.1" fill="#d98a9a"/>
<rect x="1101.20" y="418.95" width="12.1" height="12.1" fill="#8fb9e3"/>
<rect x="1115.10" y="418.95" width="12.1" height="12.1" fill="#d98a9a"/>
<rect x="1067.80" y="495.60" width="12.1" height="12.1" fill="#3474c4"/>
<rect x="1081.70" y="495.60" width="12.1" height="12.1" fill="#3474c4"/>
<rect x="1095.60" y="495.60" width="12.1" height="12.1" fill="#3474c4"/>
<rect x="1109.50" y="495.60" width="12.1" height="12.1" fill="#3474c4"/>
<rect x="1123.40" y="495.60" width="12.1" height="12.1" fill="#3474c4"/>
<rect x="1067.80" y="509.35" width="12.1" height="12.1" fill="#3474c4"/>
<rect x="1081.70" y="509.35" width="12.1" height="12.1" fill="#3474c4"/>
<rect x="1095.60" y="509.35" width="12.1" height="12.1" fill="#3474c4"/>
<rect x="1109.50" y="509.35" width="12.1" height="12.1" fill="#3474c4"/>
<rect x="1123.40" y="509.35" width="12.1" height="12.1" fill="#3474c4"/>
<rect x="1137.30" y="509.35" width="12.1" height="12.1" fill="#3474c4"/>
<rect x="1068.10" y="531.90" width="12.1" height="12.1" fill="#3474c4"/>
<rect x="1082.00" y="531.90" width="12.1" height="12.1" fill="#3474c4"/>
<rect x="1095.90" y="531.90" width="12.1" height="12.1" fill="#3474c4"/>
<rect x="1054.20" y="545.65" width="12.1" height="12.1" fill="#3474c4"/>
<rect x="1068.10" y="545.65" width="12.1" height="12.1" fill="#3474c4"/>
<rect x="1082.00" y="545.65" width="12.1" height="12.1" fill="#3474c4"/>
<rect x="1095.90" y="545.65" width="12.1" height="12.1" fill="#3474c4"/>
<rect x="1125.20" y="557.30" width="12.1" height="12.1" fill="#3474c4"/>
<rect x="1139.10" y="557.30" width="12.1" height="12.1" fill="#3474c4"/>
<rect x="1125.20" y="571.05" width="12.1" height="12.1" fill="#3474c4"/>
<rect x="1139.10" y="571.05" width="12.1" height="12.1" fill="#3474c4"/>
<rect x="1036.20" y="565.50" width="12.1" height="12.1" fill="#3474c4"/>
<rect x="1050.10" y="565.50" width="12.1" height="12.1" fill="#3474c4"/>
<rect x="1064.00" y="565.50" width="12.1" height="12.1" fill="#3474c4"/>
<rect x="1077.90" y="565.50" width="12.1" height="12.1" fill="#3474c4"/>
<rect x="1036.20" y="579.20" width="12.1" height="12.1" fill="#3474c4"/>
<rect x="1050.10" y="579.20" width="12.1" height="12.1" fill="#3474c4"/>
<rect x="1064.00" y="579.20" width="12.1" height="12.1" fill="#3474c4"/>
<rect x="1077.90" y="579.20" width="12.1" height="12.1" fill="#3474c4"/>
<rect x="1091.80" y="579.20" width="12.1" height="12.1" fill="#3474c4"/>
<rect x="1036.20" y="592.90" width="12.1" height="12.1" fill="#3474c4"/>
<rect x="1050.10" y="592.90" width="12.1" height="12.1" fill="#3474c4"/>
<rect x="1064.00" y="592.90" width="12.1" height="12.1" fill="#3474c4"/>
<rect x="1077.90" y="592.90" width="12.1" height="12.1" fill="#3474c4"/>
<rect x="1091.80" y="592.90" width="12.1" height="12.1" fill="#3474c4"/>
<rect x="1064.70" y="618.30" width="12.1" height="12.1" fill="#3474c4"/>
<rect x="1078.60" y="618.30" width="12.1" height="12.1" fill="#3474c4"/>
<rect x="1092.50" y="618.30" width="12.1" height="12.1" fill="#3474c4"/>
<rect x="1064.70" y="640.60" width="12.1" height="12.1" fill="#8fb9e3"/>
<rect x="1078.60" y="640.60" width="12.1" height="12.1" fill="#8fb9e3"/>
<rect x="1092.50" y="640.60" width="12.1" height="12.1" fill="#8fb9e3"/>
<rect x="950.50" y="613.20" width="12.1" height="12.1" fill="#3474c4"/>
<rect x="964.40" y="613.20" width="12.1" height="12.1" fill="#3474c4"/>
<rect x="978.30" y="613.20" width="12.1" height="12.1" fill="#3474c4"/>
<rect x="992.20" y="613.20" width="12.1" height="12.1" fill="#3474c4"/>
<rect x="1006.10" y="613.20" width="12.1" height="12.1" fill="#3474c4"/>
<rect x="950.50" y="626.95" width="12.1" height="12.1" fill="#3474c4"/>
<rect x="964.40" y="626.95" width="12.1" height="12.1" fill="#3474c4"/>
<rect x="978.30" y="626.95" width="12.1" height="12.1" fill="#3474c4"/>
<rect x="992.20" y="626.95" width="12.1" height="12.1" fill="#3474c4"/>
<rect x="1006.10" y="626.95" width="12.1" height="12.1" fill="#3474c4"/>
<rect x="934.80" y="548.10" width="12.1" height="12.1" fill="#d98a9a"/>
<rect x="934.80" y="561.95" width="12.1" height="12.1" fill="#d98a9a"/>
<rect x="948.70" y="561.95" width="12.1" height="12.1" fill="#d98a9a"/>
<rect x="962.60" y="561.95" width="12.1" height="12.1" fill="#d98a9a"/>
<rect x="976.50" y="561.95" width="12.1" height="12.1" fill="#d98a9a"/>
<rect x="990.40" y="561.95" width="12.1" height="12.1" fill="#d98a9a"/>
<rect x="1004.30" y="561.95" width="12.1" height="12.1" fill="#d98a9a"/>
<rect x="934.80" y="575.80" width="12.1" height="12.1" fill="#d98a9a"/>
<rect x="948.70" y="575.80" width="12.1" height="12.1" fill="#d98a9a"/>
<rect x="962.60" y="575.80" width="12.1" height="12.1" fill="#d98a9a"/>
<rect x="976.50" y="575.80" width="12.1" height="12.1" fill="#d98a9a"/>
<rect x="990.40" y="575.80" width="12.1" height="12.1" fill="#d98a9a"/>
<rect x="1004.30" y="575.80" width="12.1" height="12.1" fill="#d98a9a"/>
<rect x="934.80" y="589.65" width="12.1" height="12.1" fill="#d98a9a"/>
<rect x="948.70" y="589.65" width="12.1" height="12.1" fill="#d98a9a"/>
<rect x="962.60" y="589.65" width="12.1" height="12.1" fill="#d98a9a"/>
<rect x="976.50" y="589.65" width="12.1" height="12.1" fill="#d98a9a"/>
<rect x="990.40" y="589.65" width="12.1" height="12.1" fill="#d98a9a"/>
<rect x="1004.30" y="589.65" width="12.1" height="12.1" fill="#d98a9a"/>
<rect x="854.20" y="580.90" width="12.1" height="12.1" fill="#b82a35"/>
<rect x="896.14" y="580.90" width="12.1" height="12.1" fill="#b82a35"/>
<rect x="854.20" y="594.54" width="12.1" height="12.1" fill="#b82a35"/>
<rect x="868.18" y="594.54" width="12.1" height="12.1" fill="#b82a35"/>
<rect x="882.16" y="594.54" width="12.1" height="12.1" fill="#b82a35"/>
<rect x="896.14" y="594.54" width="12.1" height="12.1" fill="#b82a35"/>
<rect x="854.20" y="608.18" width="12.1" height="12.1" fill="#b82a35"/>
<rect x="868.18" y="608.18" width="12.1" height="12.1" fill="#b82a35"/>
<rect x="882.16" y="608.18" width="12.1" height="12.1" fill="#b82a35"/>
<rect x="896.14" y="608.18" width="12.1" height="12.1" fill="#b82a35"/>
<rect x="854.20" y="621.82" width="12.1" height="12.1" fill="#b82a35"/>
<rect x="868.18" y="621.82" width="12.1" height="12.1" fill="#b82a35"/>
<rect x="882.16" y="621.82" width="12.1" height="12.1" fill="#b82a35"/>
<rect x="896.14" y="621.82" width="12.1" height="12.1" fill="#b82a35"/>
<rect x="854.20" y="635.46" width="12.1" height="12.1" fill="#b82a35"/>
<rect x="868.18" y="635.46" width="12.1" height="12.1" fill="#b82a35"/>
<rect x="882.16" y="635.46" width="12.1" height="12.1" fill="#b82a35"/>
<rect x="913.30" y="644.40" width="12.1" height="12.1" fill="#b82a35"/>
<rect x="927.20" y="644.40" width="12.1" height="12.1" fill="#b82a35"/>
<rect x="913.30" y="658.15" width="12.1" height="12.1" fill="#b82a35"/>
<rect x="927.20" y="658.15" width="12.1" height="12.1" fill="#b82a35"/>
<rect x="832.10" y="678.30" width="12.1" height="12.1" fill="#b82a35"/>
<rect x="846.20" y="678.30" width="12.1" height="12.1" fill="#b82a35"/>
<rect x="860.30" y="678.30" width="12.1" height="12.1" fill="#b82a35"/>
<rect x="803.90" y="692.05" width="12.1" height="12.1" fill="#b82a35"/>
<rect x="818.00" y="692.05" width="12.1" height="12.1" fill="#b82a35"/>
<rect x="832.10" y="692.05" width="12.1" height="12.1" fill="#b82a35"/>
<rect x="846.20" y="692.05" width="12.1" height="12.1" fill="#b82a35"/>
<rect x="860.30" y="692.05" width="12.1" height="12.1" fill="#b82a35"/>
<rect x="986.14" y="650.20" width="12.1" height="12.1" fill="#d98a9a"/>
<rect x="1000.02" y="650.20" width="12.1" height="12.1" fill="#d98a9a"/>
<rect x="1013.90" y="650.20" width="12.1" height="12.1" fill="#d98a9a"/>
<rect x="972.26" y="663.85" width="12.1" height="12.1" fill="#d98a9a"/>
<rect x="986.14" y="663.85" width="12.1" height="12.1" fill="#d98a9a"/>
<rect x="1000.02" y="663.85" width="12.1" height="12.1" fill="#d98a9a"/>
<rect x="1013.90" y="663.85" width="12.1" height="12.1" fill="#d98a9a"/>
<rect x="944.50" y="677.50" width="12.1" height="12.1" fill="#d98a9a"/>
<rect x="958.38" y="677.50" width="12.1" height="12.1" fill="#d98a9a"/>
<rect x="972.26" y="677.50" width="12.1" height="12.1" fill="#d98a9a"/>
<rect x="986.14" y="677.50" width="12.1" height="12.1" fill="#d98a9a"/>
<rect x="1000.02" y="677.50" width="12.1" height="12.1" fill="#d98a9a"/>
<rect x="1013.90" y="677.50" width="12.1" height="12.1" fill="#d98a9a"/>
<rect x="944.82" y="710.00" width="12.1" height="12.1" fill="#d98a9a"/>
<rect x="958.63" y="710.00" width="12.1" height="12.1" fill="#d98a9a"/>
<rect x="972.44" y="710.00" width="12.1" height="12.1" fill="#d98a9a"/>
<rect x="986.25" y="710.00" width="12.1" height="12.1" fill="#d98a9a"/>
<rect x="1000.06" y="710.00" width="12.1" height="12.1" fill="#d98a9a"/>
<rect x="1013.87" y="710.00" width="12.1" height="12.1" fill="#d98a9a"/>
<rect x="917.20" y="723.75" width="12.1" height="12.1" fill="#d98a9a"/>
<rect x="931.01" y="723.75" width="12.1" height="12.1" fill="#d98a9a"/>
<rect x="944.82" y="723.75" width="12.1" height="12.1" fill="#d98a9a"/>
<rect x="958.63" y="723.75" width="12.1" height="12.1" fill="#d98a9a"/>
<rect x="972.44" y="723.75" width="12.1" height="12.1" fill="#d98a9a"/>
<rect x="986.25" y="723.75" width="12.1" height="12.1" fill="#d98a9a"/>
<rect x="1000.06" y="723.75" width="12.1" height="12.1" fill="#d98a9a"/>
<rect x="1013.87" y="723.75" width="12.1" height="12.1" fill="#d98a9a"/>
<rect x="1000.06" y="737.50" width="12.1" height="12.1" fill="#d98a9a"/>
<rect x="1013.87" y="737.50" width="12.1" height="12.1" fill="#d98a9a"/>
<rect x="927.90" y="762.20" width="12.1" height="12.1" fill="#b82a35"/>
<rect x="941.70" y="762.20" width="12.1" height="12.1" fill="#b82a35"/>
<rect x="955.50" y="762.20" width="12.1" height="12.1" fill="#b82a35"/>
<rect x="969.30" y="762.20" width="12.1" height="12.1" fill="#b82a35"/>
<rect x="941.70" y="775.90" width="12.1" height="12.1" fill="#b82a35"/>
<rect x="955.50" y="775.90" width="12.1" height="12.1" fill="#b82a35"/>
<rect x="969.30" y="775.90" width="12.1" height="12.1" fill="#b82a35"/>
<rect x="941.70" y="789.60" width="12.1" height="12.1" fill="#b82a35"/>
<rect x="955.50" y="789.60" width="12.1" height="12.1" fill="#b82a35"/>
<rect x="875.70" y="786.30" width="12.1" height="12.1" fill="#d98a9a"/>
<rect x="889.60" y="786.30" width="12.1" height="12.1" fill="#d98a9a"/>
<rect x="875.70" y="800.18" width="12.1" height="12.1" fill="#d98a9a"/>
<rect x="889.60" y="800.18" width="12.1" height="12.1" fill="#d98a9a"/>
<rect x="903.50" y="800.18" width="12.1" height="12.1" fill="#d98a9a"/>
<rect x="875.70" y="814.06" width="12.1" height="12.1" fill="#d98a9a"/>
<rect x="889.60" y="814.06" width="12.1" height="12.1" fill="#d98a9a"/>
<rect x="903.50" y="814.06" width="12.1" height="12.1" fill="#d98a9a"/>
<rect x="875.70" y="827.94" width="12.1" height="12.1" fill="#d98a9a"/>
<rect x="889.60" y="827.94" width="12.1" height="12.1" fill="#d98a9a"/>
<rect x="903.50" y="827.94" width="12.1" height="12.1" fill="#d98a9a"/>
<rect x="917.40" y="827.94" width="12.1" height="12.1" fill="#d98a9a"/>
<rect x="875.70" y="841.82" width="12.1" height="12.1" fill="#d98a9a"/>
<rect x="889.60" y="841.82" width="12.1" height="12.1" fill="#d98a9a"/>
<rect x="903.50" y="841.82" width="12.1" height="12.1" fill="#d98a9a"/>
<rect x="917.40" y="841.82" width="12.1" height="12.1" fill="#d98a9a"/>
<rect x="850.60" y="877.00" width="12.1" height="12.1" fill="#b82a35"/>
<rect x="864.38" y="877.00" width="12.1" height="12.1" fill="#b82a35"/>
<rect x="878.16" y="877.00" width="12.1" height="12.1" fill="#b82a35"/>
<rect x="891.94" y="877.00" width="12.1" height="12.1" fill="#b82a35"/>
<rect x="905.72" y="877.00" width="12.1" height="12.1" fill="#b82a35"/>
<rect x="919.50" y="877.00" width="12.1" height="12.1" fill="#b82a35"/>
<rect x="933.28" y="877.00" width="12.1" height="12.1" fill="#b82a35"/>
<rect x="919.50" y="890.78" width="12.1" height="12.1" fill="#b82a35"/>
<rect x="933.28" y="890.78" width="12.1" height="12.1" fill="#b82a35"/>
<rect x="947.06" y="890.78" width="12.1" height="12.1" fill="#b82a35"/>
<rect x="919.50" y="904.56" width="12.1" height="12.1" fill="#b82a35"/>
<rect x="933.28" y="904.56" width="12.1" height="12.1" fill="#b82a35"/>
<rect x="947.06" y="904.56" width="12.1" height="12.1" fill="#b82a35"/>
<rect x="933.28" y="918.34" width="12.1" height="12.1" fill="#b82a35"/>
<rect x="947.06" y="918.34" width="12.1" height="12.1" fill="#b82a35"/>
<rect x="960.84" y="918.34" width="12.1" height="12.1" fill="#b82a35"/>
<rect x="933.28" y="932.12" width="12.1" height="12.1" fill="#b82a35"/>
<rect x="947.06" y="932.12" width="12.1" height="12.1" fill="#b82a35"/>
<rect x="960.84" y="932.12" width="12.1" height="12.1" fill="#b82a35"/>
<rect x="933.28" y="945.90" width="12.1" height="12.1" fill="#b82a35"/>
<rect x="947.06" y="945.90" width="12.1" height="12.1" fill="#b82a35"/>
<rect x="960.84" y="945.90" width="12.1" height="12.1" fill="#b82a35"/>
<rect x="974.62" y="945.90" width="12.1" height="12.1" fill="#b82a35"/>
<rect x="947.06" y="959.68" width="12.1" height="12.1" fill="#b82a35"/>
<rect x="960.84" y="959.68" width="12.1" height="12.1" fill="#b82a35"/>
<rect x="974.62" y="959.68" width="12.1" height="12.1" fill="#b82a35"/>
<rect x="960.84" y="973.46" width="12.1" height="12.1" fill="#b82a35"/>
<rect x="974.62" y="973.46" width="12.1" height="12.1" fill="#b82a35"/>
<rect x="988.40" y="973.46" width="12.1" height="12.1" fill="#b82a35"/>
<rect x="974.62" y="987.24" width="12.1" height="12.1" fill="#b82a35"/>
<rect x="802.40" y="801.90" width="12.1" height="12.1" fill="#b82a35"/>
<rect x="816.30" y="801.90" width="12.1" height="12.1" fill="#b82a35"/>
<rect x="802.40" y="815.50" width="12.1" height="12.1" fill="#b82a35"/>
<rect x="816.30" y="815.50" width="12.1" height="12.1" fill="#b82a35"/>
<rect x="830.20" y="815.50" width="12.1" height="12.1" fill="#b82a35"/>
<rect x="802.40" y="829.10" width="12.1" height="12.1" fill="#b82a35"/>
<rect x="816.30" y="829.10" width="12.1" height="12.1" fill="#b82a35"/>
<rect x="830.20" y="829.10" width="12.1" height="12.1" fill="#b82a35"/>
<rect x="802.40" y="842.70" width="12.1" height="12.1" fill="#b82a35"/>
<rect x="743.90" y="808.30" width="12.1" height="12.1" fill="#b82a35"/>
<rect x="757.80" y="808.30" width="12.1" height="12.1" fill="#b82a35"/>
<rect x="743.90" y="822.05" width="12.1" height="12.1" fill="#b82a35"/>
<rect x="757.80" y="822.05" width="12.1" height="12.1" fill="#b82a35"/>
<rect x="743.90" y="835.80" width="12.1" height="12.1" fill="#b82a35"/>
<rect x="757.80" y="835.80" width="12.1" height="12.1" fill="#b82a35"/>
<rect x="778.00" y="728.30" width="12.1" height="12.1" fill="#b82a35"/>
<rect x="791.90" y="728.30" width="12.1" height="12.1" fill="#b82a35"/>
<rect x="805.80" y="728.30" width="12.1" height="12.1" fill="#b82a35"/>
<rect x="819.70" y="728.30" width="12.1" height="12.1" fill="#b82a35"/>
<rect x="833.60" y="728.30" width="12.1" height="12.1" fill="#b82a35"/>
<rect x="847.50" y="728.30" width="12.1" height="12.1" fill="#b82a35"/>
<rect x="861.40" y="728.30" width="12.1" height="12.1" fill="#b82a35"/>
<rect x="778.00" y="742.05" width="12.1" height="12.1" fill="#b82a35"/>
<rect x="791.90" y="742.05" width="12.1" height="12.1" fill="#b82a35"/>
<rect x="805.80" y="742.05" width="12.1" height="12.1" fill="#b82a35"/>
<rect x="819.70" y="742.05" width="12.1" height="12.1" fill="#b82a35"/>
<rect x="676.20" y="857.30" width="12.1" height="12.1" fill="#b82a35"/>
<rect x="690.10" y="857.30" width="12.1" height="12.1" fill="#b82a35"/>
<rect x="676.20" y="870.95" width="12.1" height="12.1" fill="#b82a35"/>
<rect x="690.10" y="870.95" width="12.1" height="12.1" fill="#b82a35"/>
<rect x="676.20" y="884.60" width="12.1" height="12.1" fill="#b82a35"/>
<rect x="690.10" y="884.60" width="12.1" height="12.1" fill="#b82a35"/>
<rect x="704.00" y="884.60" width="12.1" height="12.1" fill="#b82a35"/>
<rect x="717.90" y="884.60" width="12.1" height="12.1" fill="#b82a35"/>
<rect x="675.10" y="757.50" width="12.1" height="12.1" fill="#b82a35"/>
<rect x="689.00" y="757.50" width="12.1" height="12.1" fill="#b82a35"/>
<rect x="675.10" y="771.25" width="12.1" height="12.1" fill="#b82a35"/>
<rect x="689.00" y="771.25" width="12.1" height="12.1" fill="#b82a35"/>
<rect x="675.10" y="785.00" width="12.1" height="12.1" fill="#b82a35"/>
<rect x="689.00" y="785.00" width="12.1" height="12.1" fill="#b82a35"/>
<rect x="660.80" y="662.90" width="12.1" height="12.1" fill="#b82a35"/>
<rect x="674.80" y="662.90" width="12.1" height="12.1" fill="#b82a35"/>
<rect x="688.80" y="662.90" width="12.1" height="12.1" fill="#b82a35"/>
<rect x="660.80" y="676.55" width="12.1" height="12.1" fill="#b82a35"/>
<rect x="674.80" y="676.55" width="12.1" height="12.1" fill="#b82a35"/>
<rect x="688.80" y="676.55" width="12.1" height="12.1" fill="#b82a35"/>
<rect x="660.80" y="690.20" width="12.1" height="12.1" fill="#b82a35"/>
<rect x="674.80" y="690.20" width="12.1" height="12.1" fill="#b82a35"/>
<rect x="688.80" y="690.20" width="12.1" height="12.1" fill="#b82a35"/>
<rect x="702.80" y="690.20" width="12.1" height="12.1" fill="#b82a35"/>
<rect x="643.10" y="569.10" width="12.1" height="12.1" fill="#d98a9a"/>
<rect x="657.00" y="569.10" width="12.1" height="12.1" fill="#d98a9a"/>
<rect x="670.90" y="569.10" width="12.1" height="12.1" fill="#d98a9a"/>
<rect x="643.10" y="582.85" width="12.1" height="12.1" fill="#d98a9a"/>
<rect x="657.00" y="582.85" width="12.1" height="12.1" fill="#d98a9a"/>
<rect x="670.90" y="582.85" width="12.1" height="12.1" fill="#d98a9a"/>
<rect x="734.80" y="594.00" width="12.1" height="12.1" fill="#3474c4"/>
<rect x="748.70" y="594.00" width="12.1" height="12.1" fill="#3474c4"/>
<rect x="762.60" y="594.00" width="12.1" height="12.1" fill="#3474c4"/>
<rect x="720.90" y="607.82" width="12.1" height="12.1" fill="#3474c4"/>
<rect x="734.80" y="607.82" width="12.1" height="12.1" fill="#3474c4"/>
<rect x="748.70" y="607.82" width="12.1" height="12.1" fill="#3474c4"/>
<rect x="762.60" y="607.82" width="12.1" height="12.1" fill="#3474c4"/>
<rect x="720.90" y="621.64" width="12.1" height="12.1" fill="#3474c4"/>
<rect x="734.80" y="621.64" width="12.1" height="12.1" fill="#3474c4"/>
<rect x="748.70" y="621.64" width="12.1" height="12.1" fill="#3474c4"/>
<rect x="762.60" y="621.64" width="12.1" height="12.1" fill="#3474c4"/>
<rect x="734.80" y="635.46" width="12.1" height="12.1" fill="#3474c4"/>
<rect x="748.70" y="635.46" width="12.1" height="12.1" fill="#3474c4"/>
<rect x="762.60" y="635.46" width="12.1" height="12.1" fill="#3474c4"/>
<rect x="734.80" y="649.28" width="12.1" height="12.1" fill="#3474c4"/>
<rect x="748.70" y="649.28" width="12.1" height="12.1" fill="#3474c4"/>
<rect x="762.60" y="649.28" width="12.1" height="12.1" fill="#3474c4"/>
<rect x="748.70" y="663.10" width="12.1" height="12.1" fill="#3474c4"/>
<rect x="762.60" y="663.10" width="12.1" height="12.1" fill="#3474c4"/>
<rect x="799.80" y="594.70" width="12.1" height="12.1" fill="#b82a35"/>
<rect x="813.70" y="594.70" width="12.1" height="12.1" fill="#b82a35"/>
<rect x="799.80" y="608.45" width="12.1" height="12.1" fill="#b82a35"/>
<rect x="813.70" y="608.45" width="12.1" height="12.1" fill="#b82a35"/>
<rect x="799.80" y="622.20" width="12.1" height="12.1" fill="#b82a35"/>
<rect x="813.70" y="622.20" width="12.1" height="12.1" fill="#b82a35"/>
<rect x="799.80" y="635.95" width="12.1" height="12.1" fill="#b82a35"/>
<rect x="813.70" y="635.95" width="12.1" height="12.1" fill="#b82a35"/>
<rect x="799.80" y="649.70" width="12.1" height="12.1" fill="#b82a35"/>
<rect x="813.70" y="649.70" width="12.1" height="12.1" fill="#b82a35"/>
<rect x="799.80" y="663.45" width="12.1" height="12.1" fill="#b82a35"/>
<rect x="553.30" y="747.20" width="12.1" height="12.1" fill="#b82a35"/>
<rect x="567.20" y="747.20" width="12.1" height="12.1" fill="#b82a35"/>
<rect x="581.10" y="747.20" width="12.1" height="12.1" fill="#b82a35"/>
<rect x="595.00" y="747.20" width="12.1" height="12.1" fill="#b82a35"/>
<rect x="567.20" y="760.95" width="12.1" height="12.1" fill="#b82a35"/>
<rect x="581.10" y="760.95" width="12.1" height="12.1" fill="#b82a35"/>
<rect x="595.00" y="760.95" width="12.1" height="12.1" fill="#b82a35"/>
<rect x="540.40" y="665.60" width="12.1" height="12.1" fill="#d98a9a"/>
<rect x="554.30" y="665.60" width="12.1" height="12.1" fill="#d98a9a"/>
<rect x="568.20" y="665.60" width="12.1" height="12.1" fill="#d98a9a"/>
<rect x="540.40" y="679.35" width="12.1" height="12.1" fill="#d98a9a"/>
<rect x="554.30" y="679.35" width="12.1" height="12.1" fill="#d98a9a"/>
<rect x="568.20" y="679.35" width="12.1" height="12.1" fill="#d98a9a"/>
<rect x="517.40" y="586.20" width="12.1" height="12.1" fill="#b82a35"/>
<rect x="531.30" y="586.20" width="12.1" height="12.1" fill="#b82a35"/>
<rect x="545.20" y="586.20" width="12.1" height="12.1" fill="#8fb9e3"/>
<rect x="531.30" y="599.95" width="12.1" height="12.1" fill="#8fb9e3"/>
<rect x="545.20" y="599.95" width="12.1" height="12.1" fill="#b82a35"/>
<rect x="372.70" y="642.20" width="12.1" height="12.1" fill="#3474c4"/>
<rect x="386.75" y="642.20" width="12.1" height="12.1" fill="#3474c4"/>
<rect x="400.80" y="642.20" width="12.1" height="12.1" fill="#3474c4"/>
<rect x="414.85" y="642.20" width="12.1" height="12.1" fill="#3474c4"/>
<rect x="428.90" y="642.20" width="12.1" height="12.1" fill="#3474c4"/>
<rect x="372.70" y="655.95" width="12.1" height="12.1" fill="#3474c4"/>
<rect x="386.75" y="655.95" width="12.1" height="12.1" fill="#3474c4"/>
<rect x="400.80" y="655.95" width="12.1" height="12.1" fill="#3474c4"/>
<rect x="414.85" y="655.95" width="12.1" height="12.1" fill="#3474c4"/>
<rect x="428.90" y="655.95" width="12.1" height="12.1" fill="#3474c4"/>
<rect x="372.50" y="760.40" width="12.1" height="12.1" fill="#d98a9a"/>
<rect x="386.40" y="760.40" width="12.1" height="12.1" fill="#d98a9a"/>
<rect x="372.50" y="774.15" width="12.1" height="12.1" fill="#d98a9a"/>
<rect x="386.40" y="774.15" width="12.1" height="12.1" fill="#d98a9a"/>
<rect x="372.50" y="787.90" width="12.1" height="12.1" fill="#d98a9a"/>
<rect x="509.12" y="814.70" width="12.1" height="12.1" fill="#b82a35"/>
<rect x="523.03" y="814.70" width="12.1" height="12.1" fill="#b82a35"/>
<rect x="509.12" y="828.50" width="12.1" height="12.1" fill="#b82a35"/>
<rect x="523.03" y="828.50" width="12.1" height="12.1" fill="#b82a35"/>
<rect x="509.12" y="842.30" width="12.1" height="12.1" fill="#b82a35"/>
<rect x="523.03" y="842.30" width="12.1" height="12.1" fill="#b82a35"/>
<rect x="536.94" y="842.30" width="12.1" height="12.1" fill="#b82a35"/>
<rect x="550.85" y="842.30" width="12.1" height="12.1" fill="#b82a35"/>
<rect x="564.76" y="842.30" width="12.1" height="12.1" fill="#b82a35"/>
<rect x="578.67" y="842.30" width="12.1" height="12.1" fill="#b82a35"/>
<rect x="481.30" y="856.10" width="12.1" height="12.1" fill="#b82a35"/>
<rect x="495.21" y="856.10" width="12.1" height="12.1" fill="#b82a35"/>
<rect x="509.12" y="856.10" width="12.1" height="12.1" fill="#b82a35"/>
<rect x="523.03" y="856.10" width="12.1" height="12.1" fill="#b82a35"/>
<rect x="536.94" y="856.10" width="12.1" height="12.1" fill="#b82a35"/>
<rect x="550.85" y="856.10" width="12.1" height="12.1" fill="#b82a35"/>
<rect x="564.76" y="856.10" width="12.1" height="12.1" fill="#b82a35"/>
<rect x="578.67" y="856.10" width="12.1" height="12.1" fill="#b82a35"/>
<rect x="495.21" y="869.90" width="12.1" height="12.1" fill="#b82a35"/>
<rect x="509.12" y="869.90" width="12.1" height="12.1" fill="#b82a35"/>
<rect x="523.03" y="869.90" width="12.1" height="12.1" fill="#b82a35"/>
<rect x="536.94" y="869.90" width="12.1" height="12.1" fill="#b82a35"/>
<rect x="550.85" y="869.90" width="12.1" height="12.1" fill="#b82a35"/>
<rect x="564.76" y="869.90" width="12.1" height="12.1" fill="#b82a35"/>
<rect x="578.67" y="869.90" width="12.1" height="12.1" fill="#b82a35"/>
<rect x="509.12" y="883.70" width="12.1" height="12.1" fill="#b82a35"/>
<rect x="523.03" y="883.70" width="12.1" height="12.1" fill="#b82a35"/>
<rect x="536.94" y="883.70" width="12.1" height="12.1" fill="#b82a35"/>
<rect x="550.85" y="883.70" width="12.1" height="12.1" fill="#b82a35"/>
<rect x="564.76" y="883.70" width="12.1" height="12.1" fill="#b82a35"/>
<rect x="578.67" y="883.70" width="12.1" height="12.1" fill="#b82a35"/>
<rect x="523.03" y="897.50" width="12.1" height="12.1" fill="#b82a35"/>
<rect x="536.94" y="897.50" width="12.1" height="12.1" fill="#b82a35"/>
<rect x="550.85" y="897.50" width="12.1" height="12.1" fill="#b82a35"/>
<rect x="564.76" y="897.50" width="12.1" height="12.1" fill="#b82a35"/>
<rect x="536.94" y="911.30" width="12.1" height="12.1" fill="#b82a35"/>
<rect x="550.85" y="911.30" width="12.1" height="12.1" fill="#b82a35"/>
<rect x="536.94" y="925.10" width="12.1" height="12.1" fill="#b82a35"/>
<rect x="550.85" y="925.10" width="12.1" height="12.1" fill="#b82a35"/>
<rect x="550.85" y="938.90" width="12.1" height="12.1" fill="#b82a35"/>
<rect x="274.40" y="614.30" width="12.1" height="12.1" fill="#b82a35"/>
<rect x="288.30" y="614.30" width="12.1" height="12.1" fill="#b82a35"/>
<rect x="274.40" y="627.65" width="12.1" height="12.1" fill="#b82a35"/>
<rect x="288.30" y="627.65" width="12.1" height="12.1" fill="#b82a35"/>
<rect x="274.40" y="641.00" width="12.1" height="12.1" fill="#b82a35"/>
<rect x="288.30" y="641.00" width="12.1" height="12.1" fill="#b82a35"/>
<rect x="240.30" y="734.70" width="12.1" height="12.1" fill="#d98a9a"/>
<rect x="254.30" y="734.70" width="12.1" height="12.1" fill="#d98a9a"/>
<rect x="268.30" y="734.70" width="12.1" height="12.1" fill="#d98a9a"/>
<rect x="240.30" y="748.53" width="12.1" height="12.1" fill="#d98a9a"/>
<rect x="254.30" y="748.53" width="12.1" height="12.1" fill="#d98a9a"/>
<rect x="268.30" y="748.53" width="12.1" height="12.1" fill="#d98a9a"/>
<rect x="240.30" y="762.36" width="12.1" height="12.1" fill="#d98a9a"/>
<rect x="254.30" y="762.36" width="12.1" height="12.1" fill="#d98a9a"/>
<rect x="268.30" y="762.36" width="12.1" height="12.1" fill="#d98a9a"/>
<rect x="254.30" y="776.19" width="12.1" height="12.1" fill="#d98a9a"/>
<rect x="268.30" y="776.19" width="12.1" height="12.1" fill="#d98a9a"/>
<rect x="166.40" y="591.50" width="12.1" height="12.1" fill="#dcdcdc"/>
<rect x="180.30" y="591.50" width="12.1" height="12.1" fill="#dcdcdc"/>
<rect x="166.40" y="605.00" width="12.1" height="12.1" fill="#dcdcdc"/>
<rect x="180.30" y="605.00" width="12.1" height="12.1" fill="#dcdcdc"/>
<rect x="166.40" y="618.50" width="12.1" height="12.1" fill="#dcdcdc"/>
<rect x="180.30" y="618.50" width="12.1" height="12.1" fill="#dcdcdc"/>
<rect x="68.10" y="551.40" width="12.1" height="12.1" fill="#dcdcdc"/>
<rect x="81.84" y="551.40" width="12.1" height="12.1" fill="#dcdcdc"/>
<rect x="95.58" y="551.40" width="12.1" height="12.1" fill="#dcdcdc"/>
<rect x="68.10" y="565.19" width="12.1" height="12.1" fill="#dcdcdc"/>
<rect x="81.84" y="565.19" width="12.1" height="12.1" fill="#dcdcdc"/>
<rect x="95.58" y="565.19" width="12.1" height="12.1" fill="#dcdcdc"/>
<rect x="68.10" y="578.98" width="12.1" height="12.1" fill="#dcdcdc"/>
<rect x="81.84" y="578.98" width="12.1" height="12.1" fill="#dcdcdc"/>
<rect x="95.58" y="578.98" width="12.1" height="12.1" fill="#dcdcdc"/>
<rect x="68.10" y="592.77" width="12.1" height="12.1" fill="#dcdcdc"/>
<rect x="81.84" y="592.77" width="12.1" height="12.1" fill="#dcdcdc"/>
<rect x="95.58" y="592.77" width="12.1" height="12.1" fill="#dcdcdc"/>
<rect x="68.10" y="606.56" width="12.1" height="12.1" fill="#dcdcdc"/>
<rect x="81.84" y="606.56" width="12.1" height="12.1" fill="#dcdcdc"/>
<rect x="95.58" y="606.56" width="12.1" height="12.1" fill="#dcdcdc"/>
<rect x="68.10" y="620.35" width="12.1" height="12.1" fill="#dcdcdc"/>
<rect x="81.84" y="620.35" width="12.1" height="12.1" fill="#dcdcdc"/>
<rect x="95.58" y="620.35" width="12.1" height="12.1" fill="#dcdcdc"/>
<rect x="68.10" y="634.14" width="12.1" height="12.1" fill="#dcdcdc"/>
<rect x="81.84" y="634.14" width="12.1" height="12.1" fill="#dcdcdc"/>
<rect x="95.58" y="634.14" width="12.1" height="12.1" fill="#dcdcdc"/>
<rect x="68.10" y="647.93" width="12.1" height="12.1" fill="#dcdcdc"/>
<rect x="81.84" y="647.93" width="12.1" height="12.1" fill="#dcdcdc"/>
<rect x="95.58" y="647.93" width="12.1" height="12.1" fill="#dcdcdc"/>
<rect x="109.32" y="647.93" width="12.1" height="12.1" fill="#dcdcdc"/>
<rect x="81.84" y="661.72" width="12.1" height="12.1" fill="#dcdcdc"/>
<rect x="95.58" y="661.72" width="12.1" height="12.1" fill="#dcdcdc"/>
<rect x="109.32" y="661.72" width="12.1" height="12.1" fill="#dcdcdc"/>
<rect x="123.06" y="661.72" width="12.1" height="12.1" fill="#dcdcdc"/>
<rect x="81.84" y="675.51" width="12.1" height="12.1" fill="#dcdcdc"/>
<rect x="95.58" y="675.51" width="12.1" height="12.1" fill="#dcdcdc"/>
<rect x="109.32" y="675.51" width="12.1" height="12.1" fill="#dcdcdc"/>
<rect x="123.06" y="675.51" width="12.1" height="12.1" fill="#dcdcdc"/>
<rect x="95.58" y="689.30" width="12.1" height="12.1" fill="#dcdcdc"/>
<rect x="109.32" y="689.30" width="12.1" height="12.1" fill="#dcdcdc"/>
<rect x="123.06" y="689.30" width="12.1" height="12.1" fill="#dcdcdc"/>
<rect x="136.80" y="689.30" width="12.1" height="12.1" fill="#dcdcdc"/>
<rect x="95.58" y="703.09" width="12.1" height="12.1" fill="#dcdcdc"/>
<rect x="109.32" y="703.09" width="12.1" height="12.1" fill="#dcdcdc"/>
<rect x="123.06" y="703.09" width="12.1" height="12.1" fill="#dcdcdc"/>
<rect x="136.80" y="703.09" width="12.1" height="12.1" fill="#dcdcdc"/>
<rect x="150.54" y="703.09" width="12.1" height="12.1" fill="#dcdcdc"/>
<rect x="109.32" y="716.88" width="12.1" height="12.1" fill="#dcdcdc"/>
<rect x="123.06" y="716.88" width="12.1" height="12.1" fill="#dcdcdc"/>
<rect x="136.80" y="716.88" width="12.1" height="12.1" fill="#dcdcdc"/>
<rect x="150.54" y="716.88" width="12.1" height="12.1" fill="#dcdcdc"/>
<rect x="164.28" y="716.88" width="12.1" height="12.1" fill="#dcdcdc"/>
<rect x="123.06" y="730.67" width="12.1" height="12.1" fill="#dcdcdc"/>
<rect x="136.80" y="730.67" width="12.1" height="12.1" fill="#dcdcdc"/>
<rect x="150.54" y="730.67" width="12.1" height="12.1" fill="#dcdcdc"/>
<rect x="164.28" y="730.67" width="12.1" height="12.1" fill="#dcdcdc"/>
<rect x="136.80" y="744.46" width="12.1" height="12.1" fill="#dcdcdc"/>
<rect x="150.54" y="744.46" width="12.1" height="12.1" fill="#dcdcdc"/>
<rect x="164.28" y="744.46" width="12.1" height="12.1" fill="#dcdcdc"/>
<rect x="125.10" y="919.50" width="12.1" height="12.1" fill="#dcdcdc"/>
<rect x="139.00" y="919.50" width="12.1" height="12.1" fill="#dcdcdc"/>
<rect x="152.90" y="919.50" width="12.1" height="12.1" fill="#dcdcdc"/>
<rect x="340.50" y="988.50" width="12.1" height="12.1" fill="#dcdcdc"/>
<rect x="354.40" y="988.50" width="12.1" height="12.1" fill="#dcdcdc"/>
<rect x="340.50" y="1002.25" width="12.1" height="12.1" fill="#dcdcdc"/>
<rect x="354.40" y="1002.25" width="12.1" height="12.1" fill="#dcdcdc"/>
<text x="160.38" y="353.7" font-size="18.8" font-weight="bold" fill="#222" text-anchor="start" textLength="26.03" lengthAdjust="spacingAndGlyphs" stroke="#fff" stroke-width="3.5" paint-order="stroke" stroke-linejoin="round">WA</text>
<text x="124.15" y="446.4" font-size="18.8" font-weight="bold" fill="#222" text-anchor="start" textLength="23.78" lengthAdjust="spacingAndGlyphs" stroke="#fff" stroke-width="3.5" paint-order="stroke" stroke-linejoin="round">OR</text>
<text x="239.17" y="476.7" font-size="18.8" font-weight="bold" fill="#222" text-anchor="start" textLength="16.83" lengthAdjust="spacingAndGlyphs" stroke="#fff" stroke-width="3.5" paint-order="stroke" stroke-linejoin="round">ID</text>
<text x="349.48" y="408.5" font-size="18.8" font-weight="bold" fill="#222" text-anchor="start" textLength="26.42" lengthAdjust="spacingAndGlyphs" stroke="#fff" stroke-width="3.5" paint-order="stroke" stroke-linejoin="round">MT</text>
<text x="524.75" y="421.3" font-size="18.8" font-weight="bold" fill="#222" text-anchor="start" textLength="24.88" lengthAdjust="spacingAndGlyphs" stroke="#fff" stroke-width="3.5" paint-order="stroke" stroke-linejoin="round">ND</text>
<text x="520.54" y="498.6" font-size="18.8" font-weight="bold" fill="#222" text-anchor="start" textLength="22.02" lengthAdjust="spacingAndGlyphs" stroke="#fff" stroke-width="3.5" paint-order="stroke" stroke-linejoin="round">SD</text>
<text x="369.88" y="525.3" font-size="18.8" font-weight="bold" fill="#222" text-anchor="start" textLength="26.68" lengthAdjust="spacingAndGlyphs" stroke="#fff" stroke-width="3.5" paint-order="stroke" stroke-linejoin="round">WY</text>
<text x="623.15" y="442.6" font-size="18.8" font-weight="bold" fill="#222" text-anchor="start" textLength="29.11" lengthAdjust="spacingAndGlyphs" stroke="#fff" stroke-width="3.5" paint-order="stroke" stroke-linejoin="round">MN</text>
<text x="716.98" y="479.5" font-size="18.8" font-weight="bold" fill="#222" text-anchor="start" textLength="21.49" lengthAdjust="spacingAndGlyphs" stroke="#fff" stroke-width="3.5" paint-order="stroke" stroke-linejoin="round">WI</text>
<text x="819.72" y="497.4" font-size="18.8" font-weight="bold" fill="#222" text-anchor="start" textLength="21.26" lengthAdjust="spacingAndGlyphs" stroke="#fff" stroke-width="3.5" paint-order="stroke" stroke-linejoin="round">MI</text>
<text x="961.08" y="496.3" font-size="18.8" font-weight="bold" fill="#222" text-anchor="start" textLength="23.29" lengthAdjust="spacingAndGlyphs" stroke="#fff" stroke-width="3.5" paint-order="stroke" stroke-linejoin="round">NY</text>
<text x="1048.99" y="435.3" font-size="18.8" font-weight="bold" fill="#222" text-anchor="start" textLength="20.58" lengthAdjust="spacingAndGlyphs" stroke="#fff" stroke-width="3.5" paint-order="stroke" stroke-linejoin="round">VT</text>
<text x="1108.04" y="480.6" font-size="18.8" font-weight="bold" fill="#222" text-anchor="start" textLength="25.03" lengthAdjust="spacingAndGlyphs" stroke="#fff" stroke-width="3.5" paint-order="stroke" stroke-linejoin="round">NH</text>
<text x="1101.85" y="397.5" font-size="18.8" font-weight="bold" fill="#222" text-anchor="start" textLength="25.72" lengthAdjust="spacingAndGlyphs" stroke="#fff" stroke-width="3.5" paint-order="stroke" stroke-linejoin="round">ME</text>
<text x="1143.53" y="506.6" font-size="18.8" font-weight="bold" fill="#222" text-anchor="start" textLength="27.13" lengthAdjust="spacingAndGlyphs" stroke="#fff" stroke-width="3.5" paint-order="stroke" stroke-linejoin="round">MA</text>
<text x="1112.72" y="547.2" font-size="18.8" font-weight="bold" fill="#222" text-anchor="start" textLength="22.16" lengthAdjust="spacingAndGlyphs" stroke="#fff" stroke-width="3.5" paint-order="stroke" stroke-linejoin="round">CT</text>
<text x="1154.47" y="574.2" font-size="18.8" font-weight="bold" fill="#222" text-anchor="start" textLength="16.86" lengthAdjust="spacingAndGlyphs" stroke="#fff" stroke-width="3.5" paint-order="stroke" stroke-linejoin="round">RI</text>
<text x="1106.89" y="603.4" font-size="18.8" font-weight="bold" fill="#222" text-anchor="start" textLength="23.04" lengthAdjust="spacingAndGlyphs" stroke="#fff" stroke-width="3.5" paint-order="stroke" stroke-linejoin="round">NJ</text>
<text x="1107.62" y="629.4" font-size="18.8" font-weight="bold" fill="#222" text-anchor="start" textLength="22.52" lengthAdjust="spacingAndGlyphs" stroke="#fff" stroke-width="3.5" paint-order="stroke" stroke-linejoin="round">DE</text>
<text x="1107.63" y="651.6" font-size="18.8" font-weight="bold" fill="#222" text-anchor="start" textLength="23.00" lengthAdjust="spacingAndGlyphs" stroke="#fff" stroke-width="3.5" paint-order="stroke" stroke-linejoin="round">DC</text>
<text x="1023.64" y="630.0" font-size="18.8" font-weight="bold" fill="#222" text-anchor="start" textLength="26.88" lengthAdjust="spacingAndGlyphs" stroke="#fff" stroke-width="3.5" paint-order="stroke" stroke-linejoin="round">MD</text>
<text x="993.12" y="554.1" font-size="18.8" font-weight="bold" fill="#222" text-anchor="start" textLength="22.51" lengthAdjust="spacingAndGlyphs" stroke="#fff" stroke-width="3.5" paint-order="stroke" stroke-linejoin="round">PA</text>
<text x="869.32" y="586.0" font-size="18.8" font-weight="bold" fill="#222" text-anchor="start" textLength="24.90" lengthAdjust="spacingAndGlyphs" stroke="#fff" stroke-width="3.5" paint-order="stroke" stroke-linejoin="round">OH</text>
<text x="915.58" y="636.6" font-size="18.8" font-weight="bold" fill="#222" text-anchor="start" textLength="26.13" lengthAdjust="spacingAndGlyphs" stroke="#fff" stroke-width="3.5" paint-order="stroke" stroke-linejoin="round">WV</text>
<text x="843.96" y="672.2" font-size="18.8" font-weight="bold" fill="#222" text-anchor="start" textLength="21.59" lengthAdjust="spacingAndGlyphs" stroke="#fff" stroke-width="3.5" paint-order="stroke" stroke-linejoin="round">KY</text>
<text x="1031.80" y="679.7" font-size="18.8" font-weight="bold" fill="#222" text-anchor="start" textLength="20.49" lengthAdjust="spacingAndGlyphs" stroke="#fff" stroke-width="3.5" paint-order="stroke" stroke-linejoin="round">VA</text>
<text x="1030.80" y="737.5" font-size="18.8" font-weight="bold" fill="#222" text-anchor="start" textLength="23.64" lengthAdjust="spacingAndGlyphs" stroke="#fff" stroke-width="3.5" paint-order="stroke" stroke-linejoin="round">NC</text>
<text x="990.95" y="791.2" font-size="18.8" font-weight="bold" fill="#222" text-anchor="start" textLength="21.57" lengthAdjust="spacingAndGlyphs" stroke="#fff" stroke-width="3.5" paint-order="stroke" stroke-linejoin="round">SC</text>
<text x="869.97" y="779.3" font-size="18.8" font-weight="bold" fill="#222" text-anchor="start" textLength="23.14" lengthAdjust="spacingAndGlyphs" stroke="#fff" stroke-width="3.5" paint-order="stroke" stroke-linejoin="round">GA</text>
<text x="828.32" y="888.6" font-size="18.8" font-weight="bold" fill="#222" text-anchor="start" textLength="19.67" lengthAdjust="spacingAndGlyphs" stroke="#fff" stroke-width="3.5" paint-order="stroke" stroke-linejoin="round">FL</text>
<text x="803.51" y="793.4" font-size="18.8" font-weight="bold" fill="#222" text-anchor="start" textLength="20.66" lengthAdjust="spacingAndGlyphs" stroke="#fff" stroke-width="3.5" paint-order="stroke" stroke-linejoin="round">AL</text>
<text x="741.76" y="799.1" font-size="18.8" font-weight="bold" fill="#222" text-anchor="start" textLength="25.61" lengthAdjust="spacingAndGlyphs" stroke="#fff" stroke-width="3.5" paint-order="stroke" stroke-linejoin="round">MS</text>
<text x="751.61" y="751.0" font-size="18.8" font-weight="bold" fill="#222" text-anchor="start" textLength="22.63" lengthAdjust="spacingAndGlyphs" stroke="#fff" stroke-width="3.5" paint-order="stroke" stroke-linejoin="round">TN</text>
<text x="674.04" y="848.5" font-size="18.8" font-weight="bold" fill="#222" text-anchor="start" textLength="21.07" lengthAdjust="spacingAndGlyphs" stroke="#fff" stroke-width="3.5" paint-order="stroke" stroke-linejoin="round">LA</text>
<text x="677.92" y="750.4" font-size="18.8" font-weight="bold" fill="#222" text-anchor="start" textLength="21.99" lengthAdjust="spacingAndGlyphs" stroke="#fff" stroke-width="3.5" paint-order="stroke" stroke-linejoin="round">AR</text>
<text x="662.84" y="652.2" font-size="18.8" font-weight="bold" fill="#222" text-anchor="start" textLength="27.88" lengthAdjust="spacingAndGlyphs" stroke="#fff" stroke-width="3.5" paint-order="stroke" stroke-linejoin="round">MO</text>
<text x="652.27" y="559.5" font-size="18.8" font-weight="bold" fill="#222" text-anchor="start" textLength="16.87" lengthAdjust="spacingAndGlyphs" stroke="#fff" stroke-width="3.5" paint-order="stroke" stroke-linejoin="round">IA</text>
<text x="747.52" y="584.4" font-size="18.8" font-weight="bold" fill="#222" text-anchor="start" textLength="14.38" lengthAdjust="spacingAndGlyphs" stroke="#fff" stroke-width="3.5" paint-order="stroke" stroke-linejoin="round">IL</text>
<text x="803.30" y="588.3" font-size="18.8" font-weight="bold" fill="#222" text-anchor="start" textLength="17.90" lengthAdjust="spacingAndGlyphs" stroke="#fff" stroke-width="3.5" paint-order="stroke" stroke-linejoin="round">IN</text>
<text x="568.35" y="740.6" font-size="18.8" font-weight="bold" fill="#222" text-anchor="start" textLength="23.80" lengthAdjust="spacingAndGlyphs" stroke="#fff" stroke-width="3.5" paint-order="stroke" stroke-linejoin="round">OK</text>
<text x="548.36" y="655.4" font-size="18.8" font-weight="bold" fill="#222" text-anchor="start" textLength="21.65" lengthAdjust="spacingAndGlyphs" stroke="#fff" stroke-width="3.5" paint-order="stroke" stroke-linejoin="round">KS</text>
<text x="526.86" y="578.7" font-size="18.8" font-weight="bold" fill="#222" text-anchor="start" textLength="23.60" lengthAdjust="spacingAndGlyphs" stroke="#fff" stroke-width="3.5" paint-order="stroke" stroke-linejoin="round">NE</text>
<text x="396.94" y="632.6" font-size="18.8" font-weight="bold" fill="#222" text-anchor="start" textLength="24.14" lengthAdjust="spacingAndGlyphs" stroke="#fff" stroke-width="3.5" paint-order="stroke" stroke-linejoin="round">CO</text>
<text x="371.25" y="751.3" font-size="18.8" font-weight="bold" fill="#222" text-anchor="start" textLength="29.10" lengthAdjust="spacingAndGlyphs" stroke="#fff" stroke-width="3.5" paint-order="stroke" stroke-linejoin="round">NM</text>
<text x="507.62" y="805.4" font-size="18.8" font-weight="bold" fill="#222" text-anchor="start" textLength="20.52" lengthAdjust="spacingAndGlyphs" stroke="#fff" stroke-width="3.5" paint-order="stroke" stroke-linejoin="round">TX</text>
<text x="275.64" y="605.3" font-size="18.8" font-weight="bold" fill="#222" text-anchor="start" textLength="21.33" lengthAdjust="spacingAndGlyphs" stroke="#fff" stroke-width="3.5" paint-order="stroke" stroke-linejoin="round">UT</text>
<text x="249.50" y="725.8" font-size="18.8" font-weight="bold" fill="#222" text-anchor="start" textLength="21.15" lengthAdjust="spacingAndGlyphs" stroke="#fff" stroke-width="3.5" paint-order="stroke" stroke-linejoin="round">AZ</text>
<text x="166.76" y="582.3" font-size="18.8" font-weight="bold" fill="#222" text-anchor="start" textLength="23.66" lengthAdjust="spacingAndGlyphs" stroke="#fff" stroke-width="3.5" paint-order="stroke" stroke-linejoin="round">NV</text>
<text x="75.15" y="542.5" font-size="18.8" font-weight="bold" fill="#222" text-anchor="start" textLength="22.76" lengthAdjust="spacingAndGlyphs" stroke="#fff" stroke-width="3.5" paint-order="stroke" stroke-linejoin="round">CA</text>
<text x="131.70" y="909.2" font-size="18.8" font-weight="bold" fill="#222" text-anchor="start" textLength="23.15" lengthAdjust="spacingAndGlyphs" stroke="#fff" stroke-width="3.5" paint-order="stroke" stroke-linejoin="round">AK</text>
<text x="317.00" y="1007.7" font-size="18.8" font-weight="bold" fill="#222" text-anchor="start" textLength="17.89" lengthAdjust="spacingAndGlyphs" stroke="#fff" stroke-width="3.5" paint-order="stroke" stroke-linejoin="round">HI</text>
</svg></body></html>
